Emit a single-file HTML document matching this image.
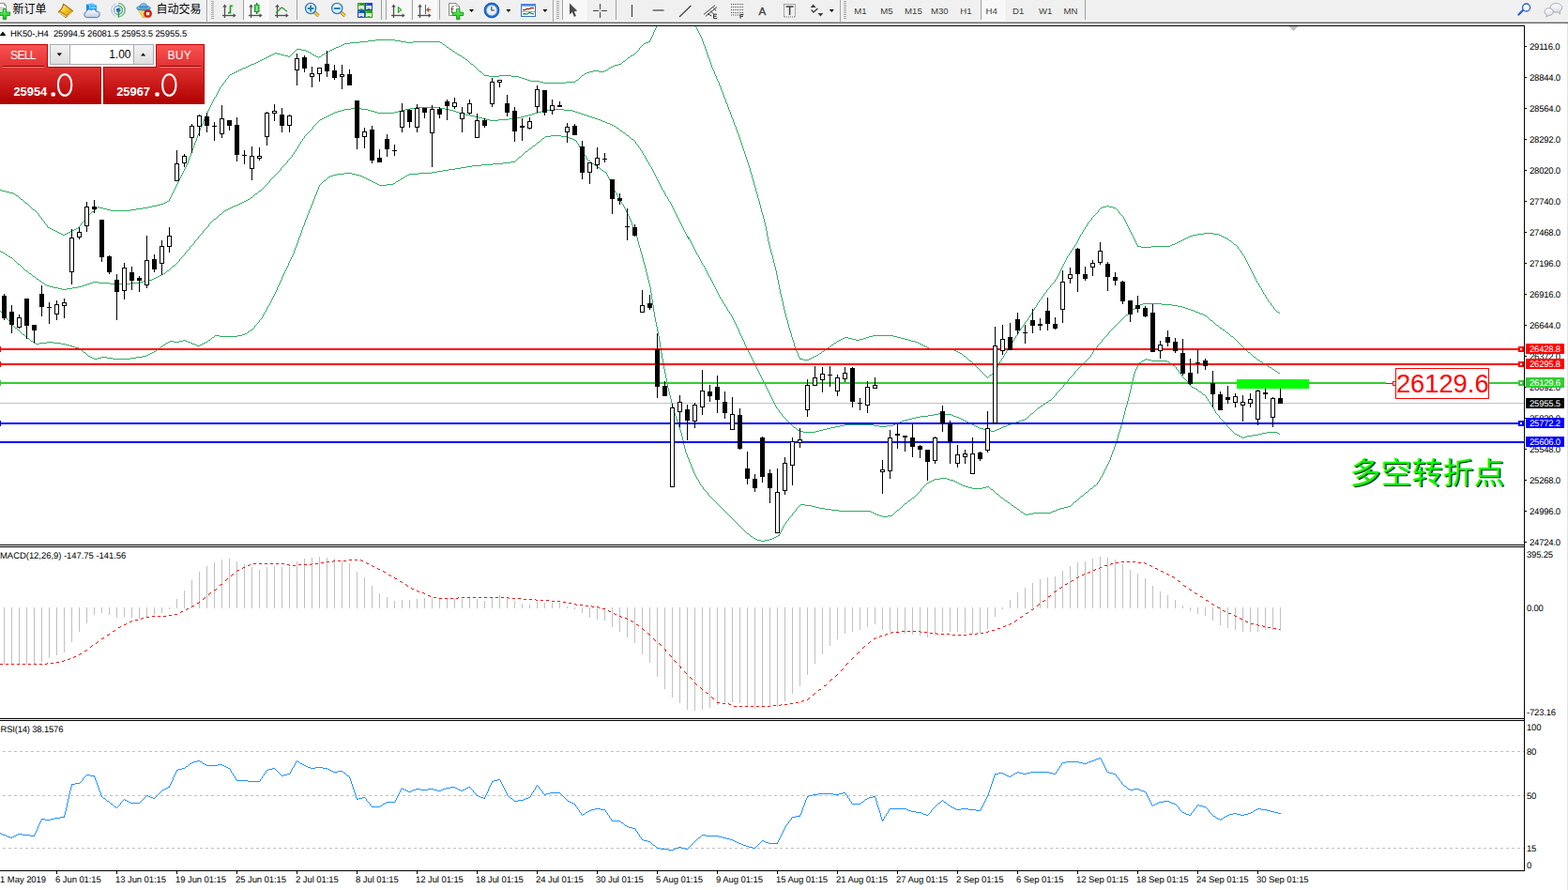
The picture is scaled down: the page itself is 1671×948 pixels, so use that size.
<!DOCTYPE html>
<html><head><meta charset="utf-8"><title>HK50-,H4</title>
<style>
html,body{margin:0;padding:0;background:#fff;}
body{width:1671px;height:948px;position:relative;overflow:hidden;font-family:"Liberation Sans",sans-serif;}
.t{position:absolute;white-space:nowrap;line-height:1.15;font-family:"Liberation Sans",sans-serif;}
.s{text-rendering:geometricPrecision;letter-spacing:-0.2px}
</style></head><body>
<svg id="tb" width="1671" height="27" viewBox="0 0 1671 27" style="position:absolute;left:0;top:0"><rect x="0" y="0" width="1671" height="23" fill="#f0f0f0" shape-rendering="crispEdges"/><rect x="0" y="22" width="1671" height="1" fill="#f5f5f5" shape-rendering="crispEdges"/><rect x="0" y="23" width="1671" height="1" fill="#b4b4b4" shape-rendering="crispEdges"/><rect x="0" y="24" width="1671" height="1" fill="#6b6b6b" shape-rendering="crispEdges"/><rect x="0" y="25" width="1671" height="2" fill="#ffffff" shape-rendering="crispEdges"/><defs>
<linearGradient id="gplus" x1="0" y1="0" x2="0" y2="1"><stop offset="0" stop-color="#7af07a"/><stop offset="1" stop-color="#1cc41c"/></linearGradient>
<linearGradient id="gold" x1="0" y1="0" x2="1" y2="1"><stop offset="0" stop-color="#fff07a"/><stop offset=".55" stop-color="#f0c020"/><stop offset="1" stop-color="#d09810"/></linearGradient>
<linearGradient id="bbox" x1="0" y1="0" x2="1" y2="0"><stop offset="0" stop-color="#1e78e8"/><stop offset="1" stop-color="#7cc4ff"/></linearGradient>
<linearGradient id="cloud" x1="0" y1="0" x2="0" y2="1"><stop offset="0" stop-color="#ffffff"/><stop offset="1" stop-color="#b8cdea"/></linearGradient>
<linearGradient id="hat" x1="0" y1="0" x2="0" y2="1"><stop offset="0" stop-color="#9ad4f2"/><stop offset="1" stop-color="#3d8fc8"/></linearGradient>
<linearGradient id="face" x1="0" y1="0" x2="1" y2="1"><stop offset="0" stop-color="#fff2a0"/><stop offset="1" stop-color="#e8b410"/></linearGradient>
<radialGradient id="lens" cx=".4" cy=".35" r=".8"><stop offset="0" stop-color="#f2fbff"/><stop offset="1" stop-color="#c4e6f6"/></radialGradient>
<radialGradient id="clock" cx=".5" cy=".5" r=".5"><stop offset="0" stop-color="#f4f6f8"/><stop offset=".66" stop-color="#dfe5ec"/><stop offset=".72" stop-color="#2e86ea"/><stop offset="1" stop-color="#0f56c0"/></radialGradient>
<linearGradient id="grn" x1="0" y1="0" x2="1" y2="0"><stop offset="0" stop-color="#20c040"/><stop offset=".5" stop-color="#90f0a0"/><stop offset="1" stop-color="#20c040"/></linearGradient>
<linearGradient id="bub" x1="0" y1="0" x2="0" y2="1"><stop offset="0" stop-color="#ffffff"/><stop offset="1" stop-color="#d4d8e4"/></linearGradient>
</defs><path d="M0,3.5 H4.5 L6.5,5.5 V13.5 H0" fill="#fff" stroke="#8a8a8a" stroke-width="1"/><path d="M4.5,3.5 V5.5 H6.5" fill="none" stroke="#8a8a8a" stroke-width=".8"/><rect x="0" y="8" width="5" height="1" fill="#b0b0b0"/><rect x="0" y="10" width="4" height="1" fill="#b0b0b0"/><path d="M3.3,9.6 H6.7 V13 H10.6 V16.4 H6.7 V20.4 H3.3 V16.4 H-1 V13 H3.3 z" fill="url(#gplus)" stroke="#0a960a" stroke-width=".9"/><text x="13.6" y="13.6" font-size="12" fill="#000" style="font-family:'Liberation Sans','Noto Sans CJK SC',sans-serif">新订单</text><path d="M67.6,4 L77.8,11.7 L70.1,18.7 L62,12.7 C65,10.6 66.6,8 67.6,4 z" fill="#c48c14" stroke="#9a6408" stroke-width=".9" stroke-linejoin="round"/><path d="M68.1,5.4 L76.3,11.6 L70.9,15.9 L64.6,11.4 C66.2,9.8 67.4,7.8 68.1,5.4 z" fill="url(#gold)"/><path d="M63.2,13.2 L70.2,17.8" stroke="#f6dc8c" stroke-width="1.1"/><path d="M71.2,17.2 L76.8,12.4" stroke="#e8d8a0" stroke-width=".8"/><path d="M92,4.6 L95.6,6 V13 H92 z" fill="#0a8cf2"/><path d="M95.6,6 L103,5.4 V13 H95.6 z" fill="#22a6ff"/><path d="M92,4.6 L98.6,3.4 L103,5.4 L95.6,6 z" fill="#5cb8ff"/><path d="M95.6,6 V12" stroke="#d8f0ff" stroke-width=".7"/><rect x="97.2" y="7.6" width="4.6" height="1" fill="#e6f4ff"/><path d="M92.6,18.6 a3,3 0 0 1 -.6,-5.9 a3.1,3.1 0 0 1 5.4,-1.7 a2.7,2.7 0 0 1 4.9,1.1 a2.9,2.9 0 0 1 1.3,6.5 z" fill="url(#cloud)" stroke="#4a6cae" stroke-width=".9"/><circle cx="126" cy="10.7" r="7.2" fill="none" stroke="#a8bfe6" stroke-width="1" stroke-dasharray="17 5.6" stroke-dashoffset="-14"/><path d="M126,3.499999999999999 A7.2,7.2 0 0 1 126,17.9" fill="none" stroke="#7fc09a" stroke-width="1.6"/><circle cx="126" cy="10.7" r="4.6" fill="none" stroke="#6f9ad8" stroke-width="1.1"/><path d="M126,6.1 A4.6,4.6 0 0 1 126,15.299999999999999" fill="#b5dcc0" stroke="#5aaa78" stroke-width="1"/><circle cx="126" cy="10.7" r="2.2" fill="#2a5fd0"/><path d="M126.3,10.7 V18.6" stroke="#18a030" stroke-width="1.3"/><path d="M146.5,10 L156,9.6 L160,10.5 L155,18.8 L152.5,18.8 z" fill="url(#face)" stroke="#c89a10" stroke-width=".6"/><ellipse cx="153" cy="8.6" rx="7.6" ry="2.6" fill="url(#hat)" stroke="#2f7eb4" stroke-width=".6"/><path d="M148.6,8 C148.8,2 157.2,2 157.4,8 z" fill="url(#hat)" stroke="#2f7eb4" stroke-width=".6"/><circle cx="157.6" cy="14.6" r="4" fill="#e02010" stroke="#b01808" stroke-width=".6"/><rect x="156" y="13" width="3.2" height="3.2" fill="#fff"/><text x="166.4" y="13.6" font-size="12" fill="#000" style="font-family:'Liberation Sans','Noto Sans CJK SC',sans-serif">自动交易</text><rect x="220" y="0" width="1" height="23" fill="#a0a0a0" shape-rendering="crispEdges"/><rect x="221" y="0" width="1" height="23" fill="#ffffff" shape-rendering="crispEdges"/><rect x="225" y="1" width="3" height="1" fill="#a6a6a6" shape-rendering="crispEdges"/><rect x="225" y="3" width="3" height="1" fill="#a6a6a6" shape-rendering="crispEdges"/><rect x="225" y="5" width="3" height="1" fill="#a6a6a6" shape-rendering="crispEdges"/><rect x="225" y="7" width="3" height="1" fill="#a6a6a6" shape-rendering="crispEdges"/><rect x="225" y="9" width="3" height="1" fill="#a6a6a6" shape-rendering="crispEdges"/><rect x="225" y="11" width="3" height="1" fill="#a6a6a6" shape-rendering="crispEdges"/><rect x="225" y="13" width="3" height="1" fill="#a6a6a6" shape-rendering="crispEdges"/><rect x="225" y="15" width="3" height="1" fill="#a6a6a6" shape-rendering="crispEdges"/><rect x="225" y="17" width="3" height="1" fill="#a6a6a6" shape-rendering="crispEdges"/><rect x="225" y="19" width="3" height="1" fill="#a6a6a6" shape-rendering="crispEdges"/><path d="M239.5,6 V19" stroke="#505050" stroke-width="1.3" fill="none"/><path d="M237,16.5 H250" stroke="#505050" stroke-width="1.3" fill="none"/><path d="M237.2,7.6 L239.5,4.6 L241.8,7.6 z" fill="#505050"/><path d="M248.6,14.2 L251.6,16.5 L248.6,18.8 z" fill="#505050"/><path d="M243,13.6 H245.5 V6.2 H248" fill="none" stroke="#18a018" stroke-width="1.6"/><rect x="260" y="0" width="25" height="21" fill="#f8f8f8" shape-rendering="crispEdges"/><rect x="259" y="0" width="1" height="21" fill="#a0a0a0" shape-rendering="crispEdges"/><rect x="285" y="0" width="1" height="22" fill="#ffffff" shape-rendering="crispEdges"/><rect x="259" y="21" width="27" height="1" fill="#ffffff" shape-rendering="crispEdges"/><path d="M267.5,6 V19" stroke="#505050" stroke-width="1.3" fill="none"/><path d="M265,16.5 H278" stroke="#505050" stroke-width="1.3" fill="none"/><path d="M265.2,7.6 L267.5,4.6 L269.8,7.6 z" fill="#505050"/><path d="M276.6,14.2 L279.6,16.5 L276.6,18.8 z" fill="#505050"/><rect x="273" y="3" width="1.4" height="12" fill="#0a900a"/><rect x="271.4" y="5.2" width="4.6" height="7.4" fill="url(#grn)" stroke="#0a900a" stroke-width=".9"/><path d="M295.5,6 V19" stroke="#505050" stroke-width="1.3" fill="none"/><path d="M293,16.5 H306" stroke="#505050" stroke-width="1.3" fill="none"/><path d="M293.2,7.6 L295.5,4.6 L297.8,7.6 z" fill="#505050"/><path d="M304.6,14.2 L307.6,16.5 L304.6,18.8 z" fill="#505050"/><path d="M294,13.6 C297,12.5 298.5,8 300.5,8.2 C302.5,8.6 303.5,11.5 306,12" fill="none" stroke="#2a9a3a" stroke-width="1.3"/><rect x="316" y="0" width="1" height="21" fill="#a0a0a0" shape-rendering="crispEdges"/><path d="M334.70000000000005,12.6 L339.5,17" stroke="#a87410" stroke-width="3.4" stroke-linecap="butt"/><path d="M334.70000000000005,12.6 L339.5,17" stroke="#f4dc48" stroke-width="1.8" stroke-linecap="butt"/><circle cx="331.1" cy="9" r="5.6" fill="url(#lens)" stroke="#2a78c8" stroke-width="1.3"/><path d="M327.70000000000005,9 H334.5" stroke="#2a80b4" stroke-width="2"/><path d="M331.1,5.6 V12.4" stroke="#2a80b4" stroke-width="2"/><path d="M362.8,12.6 L367.59999999999997,17" stroke="#a87410" stroke-width="3.4" stroke-linecap="butt"/><path d="M362.8,12.6 L367.59999999999997,17" stroke="#f4dc48" stroke-width="1.8" stroke-linecap="butt"/><circle cx="359.2" cy="9" r="5.6" fill="url(#lens)" stroke="#2a78c8" stroke-width="1.3"/><path d="M355.8,9 H362.59999999999997" stroke="#2a80b4" stroke-width="2"/><rect x="381" y="3" width="8" height="8" fill="#2ea010"/><rect x="382.2" y="6" width="5.7" height="3.9" fill="#ffffff"/><rect x="383" y="7.2" width="4" height="1" fill="#a8e090"/><rect x="382.2" y="4.2" width="0.9" height="0.9" fill="#e8f4ff"/><rect x="383.6" y="9.2" width="2.8" height="0.8" fill="#2ea010"/><rect x="389" y="3" width="8" height="8" fill="#1848d0"/><rect x="390.2" y="6" width="5.7" height="3.9" fill="#ffffff"/><rect x="391" y="7.2" width="4" height="1" fill="#a8b8f4"/><rect x="390.2" y="4.2" width="0.9" height="0.9" fill="#e8f4ff"/><rect x="391.6" y="9.2" width="2.8" height="0.8" fill="#1848d0"/><rect x="381" y="11" width="8" height="8" fill="#1848d0"/><rect x="382.2" y="14" width="5.7" height="3.9" fill="#ffffff"/><rect x="383" y="15.2" width="4" height="1" fill="#a8b8f4"/><rect x="382.2" y="12.2" width="0.9" height="0.9" fill="#e8f4ff"/><rect x="383.6" y="17.2" width="2.8" height="0.8" fill="#1848d0"/><rect x="389" y="11" width="8" height="8" fill="#2ea010"/><rect x="390.2" y="14" width="5.7" height="3.9" fill="#ffffff"/><rect x="391" y="15.2" width="4" height="1" fill="#a8e090"/><rect x="390.2" y="12.2" width="0.9" height="0.9" fill="#e8f4ff"/><rect x="391.6" y="17.2" width="2.8" height="0.8" fill="#2ea010"/><rect x="406" y="0" width="1" height="21" fill="#a0a0a0" shape-rendering="crispEdges"/><rect x="412" y="0" width="24" height="21" fill="#f8f8f8" shape-rendering="crispEdges"/><rect x="411" y="0" width="1" height="21" fill="#a0a0a0" shape-rendering="crispEdges"/><rect x="436" y="0" width="1" height="22" fill="#ffffff" shape-rendering="crispEdges"/><rect x="411" y="21" width="26" height="1" fill="#ffffff" shape-rendering="crispEdges"/><path d="M419.5,6 V19" stroke="#505050" stroke-width="1.3" fill="none"/><path d="M417,16.5 H430" stroke="#505050" stroke-width="1.3" fill="none"/><path d="M417.2,7.6 L419.5,4.6 L421.8,7.6 z" fill="#505050"/><path d="M428.6,14.2 L431.6,16.5 L428.6,18.8 z" fill="#505050"/><path d="M424.4,7.4 L428,10.5 L424.4,13.6 z" fill="#8af08a" stroke="#12a012" stroke-width="1"/><rect x="440" y="0" width="24" height="21" fill="#f8f8f8" shape-rendering="crispEdges"/><rect x="439" y="0" width="1" height="21" fill="#a0a0a0" shape-rendering="crispEdges"/><rect x="464" y="0" width="1" height="22" fill="#ffffff" shape-rendering="crispEdges"/><rect x="439" y="21" width="26" height="1" fill="#ffffff" shape-rendering="crispEdges"/><path d="M447.5,6 V19" stroke="#505050" stroke-width="1.3" fill="none"/><path d="M445,16.5 H458" stroke="#505050" stroke-width="1.3" fill="none"/><path d="M445.2,7.6 L447.5,4.6 L449.8,7.6 z" fill="#505050"/><path d="M456.6,14.2 L459.6,16.5 L456.6,18.8 z" fill="#505050"/><rect x="453" y="5" width="1" height="10" fill="#1a70a8" shape-rendering="crispEdges"/><path d="M459,10.5 H455" stroke="#b03808" stroke-width="1"/><path d="M454.2,10.5 L457,8 L456.4,10.5 L457,13 z" fill="#e85810" stroke="#b03808" stroke-width=".5"/><rect x="468" y="0" width="1" height="21" fill="#a0a0a0" shape-rendering="crispEdges"/><path d="M478.5,3.5 H486 L489.5,7 V16.5 H478.5 z" fill="#fff" stroke="#8a8a8a" stroke-width="1"/><path d="M486,3.5 V7 H489.5" fill="none" stroke="#8a8a8a" stroke-width=".8"/><path d="M481.6,14 V8.4 Q481.6,6.2 483.6,6.6 M480.4,9.6 H483.4" stroke="#5a5040" stroke-width="1" fill="none"/><path d="M486.6,9.4 H489.9 V13.2 H493.7 V16.5 H489.9 V20.6 H486.6 V16.5 H482.4 V13.2 H486.6 z" fill="url(#gplus)" stroke="#0a960a" stroke-width=".9"/><path d="M500,10 h5 l-2.5,3 z" fill="#000"/><circle cx="524" cy="11" r="8" fill="url(#clock)" stroke="#0c3f98" stroke-width=".6"/><path d="M523.8,7.2 V11 H526.8" stroke="#303848" stroke-width="1.1" fill="none"/><path d="M539.4,10 h5 l-2.5,3 z" fill="#000"/><rect x="555.5" y="4.5" width="15" height="13" fill="#f6faff" stroke="#3a6fc8" stroke-width="1"/><rect x="555" y="4" width="16" height="2.6" fill="#4a86e0"/><rect x="556" y="12" width="14" height="0.8" fill="#7aa0dc"/><path d="M557,10.6 L559.5,10.6 L561.5,9.4 L564,9.6 L566,8.4 L569,8.6" stroke="#a82808" stroke-width="1.2" fill="none"/><path d="M557,15 L559.5,14.6 L561.5,15.2 L564.5,13.2 L567,14.8 L569,14.6" stroke="#10882a" stroke-width="1.1" fill="none"/><path d="M578.4,10 h5 l-2.5,3 z" fill="#000"/><rect x="589" y="0" width="1" height="23" fill="#a0a0a0" shape-rendering="crispEdges"/><rect x="590" y="0" width="1" height="23" fill="#ffffff" shape-rendering="crispEdges"/><rect x="593" y="1" width="3" height="1" fill="#a6a6a6" shape-rendering="crispEdges"/><rect x="593" y="3" width="3" height="1" fill="#a6a6a6" shape-rendering="crispEdges"/><rect x="593" y="5" width="3" height="1" fill="#a6a6a6" shape-rendering="crispEdges"/><rect x="593" y="7" width="3" height="1" fill="#a6a6a6" shape-rendering="crispEdges"/><rect x="593" y="9" width="3" height="1" fill="#a6a6a6" shape-rendering="crispEdges"/><rect x="593" y="11" width="3" height="1" fill="#a6a6a6" shape-rendering="crispEdges"/><rect x="593" y="13" width="3" height="1" fill="#a6a6a6" shape-rendering="crispEdges"/><rect x="593" y="15" width="3" height="1" fill="#a6a6a6" shape-rendering="crispEdges"/><rect x="593" y="17" width="3" height="1" fill="#a6a6a6" shape-rendering="crispEdges"/><rect x="593" y="19" width="3" height="1" fill="#a6a6a6" shape-rendering="crispEdges"/><rect x="600" y="0" width="24" height="21" fill="#f8f8f8" shape-rendering="crispEdges"/><rect x="599" y="0" width="1" height="21" fill="#a0a0a0" shape-rendering="crispEdges"/><rect x="624" y="0" width="1" height="22" fill="#ffffff" shape-rendering="crispEdges"/><rect x="599" y="21" width="26" height="1" fill="#ffffff" shape-rendering="crispEdges"/><path d="M607,3.6 L607,15.2 L609.9,12.9 L611.9,17.9 L613.9,17.1 L611.9,12.2 L615.2,11.6 z" fill="#4a4a4a"/><rect x="639" y="4" width="1" height="6" fill="#404040" shape-rendering="crispEdges"/><rect x="639" y="13" width="1" height="6" fill="#404040" shape-rendering="crispEdges"/><rect x="632" y="11" width="6" height="1" fill="#404040" shape-rendering="crispEdges"/><rect x="641" y="11" width="6" height="1" fill="#404040" shape-rendering="crispEdges"/><rect x="639" y="11" width="1" height="1" fill="#8a7a50" shape-rendering="crispEdges"/><rect x="656" y="0" width="1" height="21" fill="#a0a0a0" shape-rendering="crispEdges"/><path d="M673.5,5 V18" stroke="#404040" stroke-width="1.2"/><path d="M695.6,11 H707.6" stroke="#404040" stroke-width="1.2"/><path d="M724,18 L736.4,6" stroke="#404040" stroke-width="1.2"/><path d="M750,15.4 L762,5.6 M752,17.4 L764,7.6 M754,14.6 L758.4,17 M757,11.4 L760.4,15 M760.4,8 L762.8,11.6" stroke="#404040" stroke-width="1" fill="none"/><g transform="translate(760.6,19.6)"><path d="M0,0 V-4.4 H3.4 M0,-2.3 H3 M0,0 H3.6" stroke="#303030" stroke-width="1" fill="none"/></g><path d="M779,4.5 H792" stroke="#505050" stroke-width="1" stroke-dasharray="1 1"/><path d="M779,7.5 H792" stroke="#505050" stroke-width="1" stroke-dasharray="1 1"/><path d="M779,10.5 H792" stroke="#505050" stroke-width="1" stroke-dasharray="1 1"/><path d="M779,13.5 H792" stroke="#505050" stroke-width="1" stroke-dasharray="1 1"/><path d="M779,16 H792" stroke="#505050" stroke-width="1" stroke-dasharray="1 1"/><g transform="translate(789,19.8)"><path d="M0,0 V-4.4 H3.4 M0,-2.2 H2.8" stroke="#303030" stroke-width="1" fill="none"/></g><text x="808.6" y="15.6" font-family="Liberation Sans" font-size="11.6" fill="#404040" stroke="#404040" stroke-width=".3">A</text><rect x="835.5" y="4.5" width="12" height="13.5" fill="none" stroke="#606060" stroke-width="1" stroke-dasharray="1 1"/><path d="M837.6,7 H845.6 M841.6,7 V16" stroke="#404040" stroke-width="1.5" fill="none"/><path d="M866.6,4.4 L869.6,8 H863.6 z M874.4,17.6 L871.4,14 H877.4 z" fill="#404040"/><path d="M864.6,10.6 L867,13 L871.4,9" stroke="#404040" stroke-width="1.4" fill="none"/><path d="M883.8,10 h5 l-2.5,3 z" fill="#000"/><rect x="895" y="0" width="1" height="23" fill="#a0a0a0" shape-rendering="crispEdges"/><rect x="896" y="0" width="1" height="23" fill="#ffffff" shape-rendering="crispEdges"/><rect x="899" y="1" width="3" height="1" fill="#a6a6a6" shape-rendering="crispEdges"/><rect x="899" y="3" width="3" height="1" fill="#a6a6a6" shape-rendering="crispEdges"/><rect x="899" y="5" width="3" height="1" fill="#a6a6a6" shape-rendering="crispEdges"/><rect x="899" y="7" width="3" height="1" fill="#a6a6a6" shape-rendering="crispEdges"/><rect x="899" y="9" width="3" height="1" fill="#a6a6a6" shape-rendering="crispEdges"/><rect x="899" y="11" width="3" height="1" fill="#a6a6a6" shape-rendering="crispEdges"/><rect x="899" y="13" width="3" height="1" fill="#a6a6a6" shape-rendering="crispEdges"/><rect x="899" y="15" width="3" height="1" fill="#a6a6a6" shape-rendering="crispEdges"/><rect x="899" y="17" width="3" height="1" fill="#a6a6a6" shape-rendering="crispEdges"/><rect x="899" y="19" width="3" height="1" fill="#a6a6a6" shape-rendering="crispEdges"/><rect x="1046" y="0" width="24" height="21" fill="#f8f8f8" shape-rendering="crispEdges"/><rect x="1045" y="0" width="1" height="21" fill="#a0a0a0" shape-rendering="crispEdges"/><rect x="1070" y="0" width="1" height="22" fill="#ffffff" shape-rendering="crispEdges"/><rect x="1045" y="21" width="26" height="1" fill="#ffffff" shape-rendering="crispEdges"/><text x="917" y="14.7" text-anchor="middle" font-family="Liberation Sans" font-size="9.6" fill="#3c3c3c">M1</text><text x="945" y="14.7" text-anchor="middle" font-family="Liberation Sans" font-size="9.6" fill="#3c3c3c">M5</text><text x="973.4" y="14.7" text-anchor="middle" font-family="Liberation Sans" font-size="9.6" fill="#3c3c3c">M15</text><text x="1001.3" y="14.7" text-anchor="middle" font-family="Liberation Sans" font-size="9.6" fill="#3c3c3c">M30</text><text x="1029.4" y="14.7" text-anchor="middle" font-family="Liberation Sans" font-size="9.6" fill="#3c3c3c">H1</text><text x="1056.6" y="14.7" text-anchor="middle" font-family="Liberation Sans" font-size="9.6" fill="#3c3c3c">H4</text><text x="1085.2" y="14.7" text-anchor="middle" font-family="Liberation Sans" font-size="9.6" fill="#3c3c3c">D1</text><text x="1114.2" y="14.7" text-anchor="middle" font-family="Liberation Sans" font-size="9.6" fill="#3c3c3c">W1</text><text x="1141" y="14.7" text-anchor="middle" font-family="Liberation Sans" font-size="9.6" fill="#3c3c3c">MN</text><rect x="1156" y="0" width="1" height="21" fill="#a0a0a0" shape-rendering="crispEdges"/><path d="M1623.4,10.4 L1618.4,15.6" stroke="#2a5fc8" stroke-width="2.2" stroke-linecap="round"/><circle cx="1626.6" cy="8" r="4" fill="#f6f9ff" stroke="#2a5fc8" stroke-width="1.3"/><path d="M1653,5.6 a6.4,4.8 0 1 1 9,6.6 l.6,2.6 l-2.6,-1.8 a6.4,4.8 0 0 1 -7,-7.4 z" fill="url(#bub)" stroke="#9a9aa2" stroke-width=".8"/><path d="M1646,12 a4.6,3.8 0 1 1 4.4,4.4 l-2.6,1.8 l.4,-2.4 a4.6,3.8 0 0 1 -2.2,-3.8 z" fill="url(#bub)" stroke="#9a9aa2" stroke-width=".8"/></svg>
<svg id="chart" width="1671" height="948" viewBox="0 0 1671 948" style="position:absolute;left:0;top:0"><g shape-rendering="crispEdges"><rect x="0" y="27" width="1625" height="1" fill="#000"/><rect x="1624" y="27" width="1" height="901" fill="#000"/><rect x="0" y="580" width="1625" height="1" fill="#000"/><rect x="0" y="582" width="1625" height="1" fill="#000"/><rect x="0" y="765" width="1625" height="1" fill="#000"/><rect x="0" y="767" width="1625" height="1" fill="#000"/><rect x="0" y="927" width="1625" height="1" fill="#000"/><rect x="1670" y="25" width="1" height="923" fill="#e3e3e3"/><path d="M1373,28 H1383 L1378,33 z" fill="#c0c0c0"/><rect x="0" y="429" width="1624" height="1" fill="#c0c0c0"/><rect x="4" y="647" width="1" height="61" fill="#c0c0c0"/><rect x="12" y="647" width="1" height="61" fill="#c0c0c0"/><rect x="20" y="647" width="1" height="61" fill="#c0c0c0"/><rect x="28" y="647" width="1" height="61" fill="#c0c0c0"/><rect x="36" y="647" width="1" height="61" fill="#c0c0c0"/><rect x="44" y="647" width="1" height="58" fill="#c0c0c0"/><rect x="52" y="647" width="1" height="54" fill="#c0c0c0"/><rect x="60" y="647" width="1" height="51" fill="#c0c0c0"/><rect x="68" y="647" width="1" height="48" fill="#c0c0c0"/><rect x="76" y="647" width="1" height="37" fill="#c0c0c0"/><rect x="84" y="647" width="1" height="26" fill="#c0c0c0"/><rect x="92" y="647" width="1" height="17" fill="#c0c0c0"/><rect x="100" y="647" width="1" height="8" fill="#c0c0c0"/><rect x="108" y="647" width="1" height="6" fill="#c0c0c0"/><rect x="116" y="647" width="1" height="8" fill="#c0c0c0"/><rect x="124" y="647" width="1" height="11" fill="#c0c0c0"/><rect x="132" y="647" width="1" height="10" fill="#c0c0c0"/><rect x="140" y="647" width="1" height="11" fill="#c0c0c0"/><rect x="148" y="647" width="1" height="12" fill="#c0c0c0"/><rect x="156" y="647" width="1" height="10" fill="#c0c0c0"/><rect x="164" y="647" width="1" height="8" fill="#c0c0c0"/><rect x="172" y="647" width="1" height="6" fill="#c0c0c0"/><rect x="180" y="647" width="1" height="2" fill="#c0c0c0"/><rect x="188" y="638" width="1" height="10" fill="#c0c0c0"/><rect x="196" y="629" width="1" height="19" fill="#c0c0c0"/><rect x="204" y="618" width="1" height="30" fill="#c0c0c0"/><rect x="212" y="609" width="1" height="39" fill="#c0c0c0"/><rect x="220" y="603" width="1" height="45" fill="#c0c0c0"/><rect x="228" y="599" width="1" height="49" fill="#c0c0c0"/><rect x="236" y="596" width="1" height="52" fill="#c0c0c0"/><rect x="244" y="595" width="1" height="53" fill="#c0c0c0"/><rect x="252" y="598" width="1" height="50" fill="#c0c0c0"/><rect x="260" y="601" width="1" height="47" fill="#c0c0c0"/><rect x="268" y="604" width="1" height="44" fill="#c0c0c0"/><rect x="276" y="607" width="1" height="41" fill="#c0c0c0"/><rect x="284" y="604" width="1" height="44" fill="#c0c0c0"/><rect x="292" y="603" width="1" height="45" fill="#c0c0c0"/><rect x="300" y="604" width="1" height="44" fill="#c0c0c0"/><rect x="308" y="604" width="1" height="44" fill="#c0c0c0"/><rect x="316" y="598" width="1" height="50" fill="#c0c0c0"/><rect x="324" y="595" width="1" height="53" fill="#c0c0c0"/><rect x="332" y="594" width="1" height="54" fill="#c0c0c0"/><rect x="340" y="593" width="1" height="55" fill="#c0c0c0"/><rect x="348" y="594" width="1" height="54" fill="#c0c0c0"/><rect x="356" y="595" width="1" height="53" fill="#c0c0c0"/><rect x="364" y="597" width="1" height="51" fill="#c0c0c0"/><rect x="372" y="600" width="1" height="48" fill="#c0c0c0"/><rect x="380" y="609" width="1" height="39" fill="#c0c0c0"/><rect x="388" y="615" width="1" height="33" fill="#c0c0c0"/><rect x="396" y="624" width="1" height="24" fill="#c0c0c0"/><rect x="404" y="632" width="1" height="16" fill="#c0c0c0"/><rect x="412" y="636" width="1" height="12" fill="#c0c0c0"/><rect x="420" y="640" width="1" height="8" fill="#c0c0c0"/><rect x="428" y="639" width="1" height="9" fill="#c0c0c0"/><rect x="436" y="639" width="1" height="9" fill="#c0c0c0"/><rect x="444" y="638" width="1" height="10" fill="#c0c0c0"/><rect x="452" y="637" width="1" height="11" fill="#c0c0c0"/><rect x="460" y="637" width="1" height="11" fill="#c0c0c0"/><rect x="468" y="637" width="1" height="11" fill="#c0c0c0"/><rect x="476" y="638" width="1" height="10" fill="#c0c0c0"/><rect x="484" y="637" width="1" height="11" fill="#c0c0c0"/><rect x="492" y="638" width="1" height="10" fill="#c0c0c0"/><rect x="500" y="637" width="1" height="11" fill="#c0c0c0"/><rect x="508" y="638" width="1" height="10" fill="#c0c0c0"/><rect x="516" y="640" width="1" height="8" fill="#c0c0c0"/><rect x="524" y="636" width="1" height="12" fill="#c0c0c0"/><rect x="532" y="634" width="1" height="14" fill="#c0c0c0"/><rect x="540" y="637" width="1" height="11" fill="#c0c0c0"/><rect x="548" y="640" width="1" height="8" fill="#c0c0c0"/><rect x="556" y="643" width="1" height="5" fill="#c0c0c0"/><rect x="564" y="644" width="1" height="4" fill="#c0c0c0"/><rect x="572" y="641" width="1" height="7" fill="#c0c0c0"/><rect x="580" y="642" width="1" height="6" fill="#c0c0c0"/><rect x="588" y="642" width="1" height="6" fill="#c0c0c0"/><rect x="596" y="642" width="1" height="6" fill="#c0c0c0"/><rect x="604" y="646" width="1" height="2" fill="#c0c0c0"/><rect x="612" y="647" width="1" height="2" fill="#c0c0c0"/><rect x="620" y="647" width="1" height="6" fill="#c0c0c0"/><rect x="628" y="647" width="1" height="11" fill="#c0c0c0"/><rect x="636" y="647" width="1" height="13" fill="#c0c0c0"/><rect x="644" y="647" width="1" height="14" fill="#c0c0c0"/><rect x="652" y="647" width="1" height="21" fill="#c0c0c0"/><rect x="660" y="647" width="1" height="26" fill="#c0c0c0"/><rect x="668" y="647" width="1" height="32" fill="#c0c0c0"/><rect x="676" y="647" width="1" height="38" fill="#c0c0c0"/><rect x="684" y="647" width="1" height="50" fill="#c0c0c0"/><rect x="692" y="647" width="1" height="59" fill="#c0c0c0"/><rect x="700" y="647" width="1" height="74" fill="#c0c0c0"/><rect x="708" y="647" width="1" height="87" fill="#c0c0c0"/><rect x="716" y="647" width="1" height="96" fill="#c0c0c0"/><rect x="724" y="647" width="1" height="102" fill="#c0c0c0"/><rect x="732" y="647" width="1" height="109" fill="#c0c0c0"/><rect x="740" y="647" width="1" height="110" fill="#c0c0c0"/><rect x="748" y="647" width="1" height="109" fill="#c0c0c0"/><rect x="756" y="647" width="1" height="107" fill="#c0c0c0"/><rect x="764" y="647" width="1" height="104" fill="#c0c0c0"/><rect x="772" y="647" width="1" height="102" fill="#c0c0c0"/><rect x="780" y="647" width="1" height="101" fill="#c0c0c0"/><rect x="788" y="647" width="1" height="102" fill="#c0c0c0"/><rect x="796" y="647" width="1" height="105" fill="#c0c0c0"/><rect x="804" y="647" width="1" height="108" fill="#c0c0c0"/><rect x="812" y="647" width="1" height="107" fill="#c0c0c0"/><rect x="820" y="647" width="1" height="106" fill="#c0c0c0"/><rect x="828" y="647" width="1" height="106" fill="#c0c0c0"/><rect x="836" y="647" width="1" height="100" fill="#c0c0c0"/><rect x="844" y="647" width="1" height="92" fill="#c0c0c0"/><rect x="852" y="647" width="1" height="84" fill="#c0c0c0"/><rect x="860" y="647" width="1" height="72" fill="#c0c0c0"/><rect x="868" y="647" width="1" height="60" fill="#c0c0c0"/><rect x="876" y="647" width="1" height="50" fill="#c0c0c0"/><rect x="884" y="647" width="1" height="41" fill="#c0c0c0"/><rect x="892" y="647" width="1" height="34" fill="#c0c0c0"/><rect x="900" y="647" width="1" height="28" fill="#c0c0c0"/><rect x="908" y="647" width="1" height="26" fill="#c0c0c0"/><rect x="916" y="647" width="1" height="24" fill="#c0c0c0"/><rect x="924" y="647" width="1" height="21" fill="#c0c0c0"/><rect x="932" y="647" width="1" height="18" fill="#c0c0c0"/><rect x="940" y="647" width="1" height="24" fill="#c0c0c0"/><rect x="948" y="647" width="1" height="26" fill="#c0c0c0"/><rect x="956" y="647" width="1" height="28" fill="#c0c0c0"/><rect x="964" y="647" width="1" height="28" fill="#c0c0c0"/><rect x="972" y="647" width="1" height="29" fill="#c0c0c0"/><rect x="980" y="647" width="1" height="30" fill="#c0c0c0"/><rect x="988" y="647" width="1" height="32" fill="#c0c0c0"/><rect x="996" y="647" width="1" height="30" fill="#c0c0c0"/><rect x="1004" y="647" width="1" height="26" fill="#c0c0c0"/><rect x="1012" y="647" width="1" height="26" fill="#c0c0c0"/><rect x="1020" y="647" width="1" height="26" fill="#c0c0c0"/><rect x="1028" y="647" width="1" height="27" fill="#c0c0c0"/><rect x="1036" y="647" width="1" height="28" fill="#c0c0c0"/><rect x="1044" y="647" width="1" height="27" fill="#c0c0c0"/><rect x="1052" y="647" width="1" height="23" fill="#c0c0c0"/><rect x="1060" y="647" width="1" height="10" fill="#c0c0c0"/><rect x="1068" y="647" width="1" height="2" fill="#c0c0c0"/><rect x="1076" y="639" width="1" height="9" fill="#c0c0c0"/><rect x="1084" y="631" width="1" height="17" fill="#c0c0c0"/><rect x="1092" y="626" width="1" height="22" fill="#c0c0c0"/><rect x="1100" y="621" width="1" height="27" fill="#c0c0c0"/><rect x="1108" y="617" width="1" height="31" fill="#c0c0c0"/><rect x="1116" y="615" width="1" height="33" fill="#c0c0c0"/><rect x="1124" y="614" width="1" height="34" fill="#c0c0c0"/><rect x="1132" y="608" width="1" height="40" fill="#c0c0c0"/><rect x="1140" y="603" width="1" height="45" fill="#c0c0c0"/><rect x="1148" y="599" width="1" height="49" fill="#c0c0c0"/><rect x="1156" y="598" width="1" height="50" fill="#c0c0c0"/><rect x="1164" y="595" width="1" height="53" fill="#c0c0c0"/><rect x="1172" y="593" width="1" height="55" fill="#c0c0c0"/><rect x="1180" y="594" width="1" height="54" fill="#c0c0c0"/><rect x="1188" y="596" width="1" height="52" fill="#c0c0c0"/><rect x="1196" y="601" width="1" height="47" fill="#c0c0c0"/><rect x="1204" y="607" width="1" height="41" fill="#c0c0c0"/><rect x="1212" y="611" width="1" height="37" fill="#c0c0c0"/><rect x="1220" y="616" width="1" height="32" fill="#c0c0c0"/><rect x="1228" y="624" width="1" height="24" fill="#c0c0c0"/><rect x="1236" y="630" width="1" height="18" fill="#c0c0c0"/><rect x="1244" y="634" width="1" height="14" fill="#c0c0c0"/><rect x="1252" y="639" width="1" height="9" fill="#c0c0c0"/><rect x="1260" y="645" width="1" height="3" fill="#c0c0c0"/><rect x="1268" y="647" width="1" height="4" fill="#c0c0c0"/><rect x="1276" y="647" width="1" height="7" fill="#c0c0c0"/><rect x="1284" y="647" width="1" height="9" fill="#c0c0c0"/><rect x="1292" y="647" width="1" height="14" fill="#c0c0c0"/><rect x="1300" y="647" width="1" height="19" fill="#c0c0c0"/><rect x="1308" y="647" width="1" height="22" fill="#c0c0c0"/><rect x="1316" y="647" width="1" height="24" fill="#c0c0c0"/><rect x="1324" y="647" width="1" height="26" fill="#c0c0c0"/><rect x="1332" y="647" width="1" height="26" fill="#c0c0c0"/><rect x="1340" y="647" width="1" height="26" fill="#c0c0c0"/><rect x="1348" y="647" width="1" height="24" fill="#c0c0c0"/><rect x="1356" y="647" width="1" height="24" fill="#c0c0c0"/><rect x="1364" y="647" width="1" height="25" fill="#c0c0c0"/><line x1="3" y1="800.5" x2="1624" y2="800.5" stroke="#c0c0c0" stroke-width="1" stroke-dasharray="3,3"/><line x1="3" y1="847.5" x2="1624" y2="847.5" stroke="#c0c0c0" stroke-width="1" stroke-dasharray="3,3"/><line x1="3" y1="903.5" x2="1624" y2="903.5" stroke="#c0c0c0" stroke-width="1" stroke-dasharray="3,3"/></g><clipPath id="cm"><rect x="0" y="28" width="1624" height="552"/></clipPath><g shape-rendering="crispEdges" clip-path="url(#cm)"><path d="M879,542.5h7M1084,542.5h2M1127,542.5h3M565,86.5h10M400,195.5h2M419,195.5h2M1212,262.5h4M1227,262.5h20M1,268.5h2M894,544.5h34M1122,544.5h3M1254,258.5h2M29,360.5h2M898,360.5h2M904,360.5h4M920,360.5h3M960,360.5h4M84,371.5h2M990,371.5h14M1247,261.5h2M886,543.5h8M956,543.5h2M1125,543.5h2M110,222.5h4M145,222.5h7M243,222.5h2M167,372.5h2M879,372.5h2M1004,372.5h13M1282,420.5h2M156,378.5h2M870,378.5h2M1218,323.5h20M118,224.5h21M239,224.5h2M1252,259.5h2M1247,387.5h2M1346,387.5h2M1106,434.5h2M289,58.5h2M299,58.5h4M333,58.5h2M343,58.5h2M488,58.5h2M674,58.5h2M1000,440.5h7M1099,440.5h2M562,85.5h3M614,85.5h2M1115,428.5h2M890,454.5h5M937,454.5h8M1040,454.5h2M1069,454.5h3M98,225.5h2M1213,325.5h2M1249,325.5h6M877,457.5h4M1048,457.5h4M1062,457.5h3M383,44.5h9M427,44.5h6M440,44.5h29M691,44.5h2M994,511.5h2M1012,511.5h4M45,301.5h2M96,301.5h3M105,301.5h12M139,301.5h9M1033,384.5h2M1217,384.5h2M1227,384.5h17M900,452.5h31M952,452.5h2M1036,452.5h2M1074,452.5h3M610,148.5h2M673,148.5h2M162,219.5h5M249,219.5h3M1179,219.5h3M796,568.5h2M1214,386.5h2M367,116.5h7M385,116.5h7M432,116.5h5M474,116.5h5M590,116.5h11M351,122.5h2M496,122.5h5M563,122.5h4M622,122.5h3M63,248.5h2M71,248.5h2M1283,248.5h10M503,176.5h10M634,176.5h2M16,349.5h2M1300,349.5h2M560,161.5h2M316,52.5h5M354,52.5h2M479,52.5h2M39,297.5h2M162,297.5h2M67,250.5h2M1271,250.5h5M1299,250.5h2M158,298.5h4M36,365.5h2M42,365.5h8M57,365.5h8M177,365.5h2M203,365.5h2M217,365.5h2M889,365.5h2M978,365.5h2M627,171.5h2M373,45.5h10M433,45.5h7M469,45.5h2M688,45.5h3M11,274.5h2M856,460.5h13M1350,460.5h11M267,351.5h2M1303,351.5h2M805,574.5h2M820,574.5h3M38,366.5h4M65,366.5h5M205,366.5h3M215,366.5h2M980,366.5h2M341,127.5h2M518,127.5h4M531,127.5h11M637,127.5h3M367,184.5h8M446,184.5h14M374,115.5h11M437,115.5h6M469,115.5h5M472,181.5h6M641,181.5h2M1353,391.5h2M443,114.5h26M62,307.5h4M71,307.5h6M1029,518.5h3M1051,518.5h3M1274,414.5h2M516,80.5h5M532,80.5h13M620,80.5h2M972,530.5h2M1067,530.5h2M61,247.5h2M73,247.5h2M104,220.5h2M158,220.5h4M247,220.5h2M1175,220.5h4M1182,220.5h4M850,458.5h2M873,458.5h4M1052,458.5h4M1060,458.5h2M390,190.5h2M427,190.5h2M229,357.5h5M253,357.5h5M930,357.5h22M1278,417.5h2M466,182.5h6M733,253.5h2M1264,253.5h2M1305,253.5h2M349,123.5h2M501,123.5h5M559,123.5h4M625,123.5h3M262,71.5h2M651,71.5h2M93,302.5h3M117,302.5h22M55,244.5h2M79,244.5h2M100,382.5h4M120,382.5h19M852,382.5h4M862,382.5h2M1221,382.5h2M587,144.5h11M668,144.5h2M1345,461.5h5M1361,461.5h2M50,304.5h3M87,304.5h3M51,242.5h2M48,303.5h2M90,303.5h3M57,245.5h2M77,245.5h2M521,81.5h11M545,81.5h8M1258,256.5h2M1310,256.5h2M930,546.5h2M1101,546.5h19M581,145.5h6M598,145.5h7M234,358.5h19M926,358.5h4M952,358.5h4M1312,358.5h2M345,192.5h2M394,192.5h2M424,192.5h2M928,545.5h2M1088,545.5h2M1120,545.5h2M392,191.5h2M195,362.5h3M222,362.5h2M894,362.5h2M912,362.5h4M968,362.5h3M74,368.5h3M210,368.5h3M984,368.5h2M226,359.5h2M900,359.5h4M923,359.5h3M956,359.5h4M33,363.5h2M181,363.5h4M191,363.5h4M198,363.5h2M892,363.5h2M971,363.5h4M17,208.5h2M858,538.5h7M1078,538.5h2M1112,430.5h2M1152,528.5h2M896,361.5h2M908,361.5h4M916,361.5h4M964,361.5h4M158,377.5h2M106,221.5h4M152,221.5h6M245,221.5h2M1173,221.5h2M1186,221.5h3M178,214.5h2M260,214.5h2M553,82.5h3M1272,331.5h2M245,79.5h2M578,147.5h2M607,147.5h3M937,549.5h3M946,549.5h5M1200,335.5h2M1282,335.5h2M363,48.5h2M579,88.5h24M1216,263.5h11M961,448.5h3M1028,448.5h2M1086,448.5h3M77,369.5h3M171,369.5h2M986,369.5h2M829,570.5h2M1256,257.5h2M35,294.5h2M168,294.5h2M1215,324.5h3M1238,324.5h11M536,173.5h8M392,43.5h8M421,43.5h6M27,216.5h2M174,216.5h2M256,216.5h2M9,273.5h2M261,355.5h2M1207,329.5h2M1266,329.5h3M996,510.5h6M1009,510.5h3M357,119.5h3M399,119.5h3M420,119.5h4M486,119.5h3M573,119.5h4M613,119.5h3M364,117.5h3M392,117.5h3M428,117.5h4M479,117.5h4M582,117.5h8M601,117.5h9M57,306.5h5M77,306.5h6M968,533.5h2M1071,533.5h2M400,42.5h21M19,281.5h2M343,126.5h2M514,126.5h4M542,126.5h8M634,126.5h3M355,120.5h2M402,120.5h18M489,120.5h3M570,120.5h3M616,120.5h3M166,295.5h2M353,121.5h2M492,121.5h4M567,121.5h3M619,121.5h3M359,185.5h8M375,185.5h4M436,185.5h10M164,296.5h2M404,197.5h8M321,53.5h5M352,53.5h2M1026,517.5h3M1166,517.5h2M1348,388.5h2M478,180.5h7M350,188.5h2M386,188.5h2M251,76.5h2M511,76.5h2M628,76.5h4M638,76.5h6M275,65.5h2M664,65.5h2M6,204.5h4M98,381.5h2M104,381.5h4M114,381.5h6M139,381.5h6M864,381.5h2M1056,521.5h2M271,67.5h2M664,141.5h2M652,133.5h2M352,187.5h3M383,187.5h3M432,187.5h2M402,196.5h2M412,196.5h7M865,539.5h4M1138,539.5h3M170,293.5h2M70,367.5h4M174,367.5h2M208,367.5h2M213,367.5h2M886,367.5h2M982,367.5h2M869,540.5h4M1081,540.5h2M1134,540.5h4M89,375.5h2M162,375.5h2M1021,375.5h2M1330,375.5h2M1320,464.5h2M1329,464.5h6M733,254.5h2M1262,254.5h2M1307,254.5h2M556,83.5h3M99,300.5h6M148,300.5h5M66,308.5h5M65,249.5h2M69,249.5h2M1276,249.5h7M1293,249.5h6M1249,260.5h3M1315,260.5h2M171,217.5h3M254,217.5h2M976,444.5h5M1019,444.5h3M856,383.5h6M1219,383.5h2M1223,383.5h4M1340,383.5h2M367,46.5h6M686,46.5h2M995,441.5h5M1007,441.5h7M1260,327.5h3M1250,389.5h2M1263,328.5h3M811,576.5h4M968,446.5h4M1024,446.5h2M1092,446.5h2M513,175.5h12M803,573.5h2M823,573.5h2M328,55.5h2M348,55.5h2M53,305.5h4M83,305.5h4M264,70.5h2M653,70.5h2M1284,336.5h2M228,233.5h2M176,215.5h2M258,215.5h2M956,450.5h3M1032,450.5h2M1080,450.5h3M283,61.5h2M493,61.5h2M669,61.5h2M959,449.5h2M1030,449.5h2M1083,449.5h3M972,445.5h4M1022,445.5h2M460,183.5h6M644,183.5h2M264,353.5h2M1351,390.5h2M895,453.5h5M931,453.5h6M945,453.5h7M1038,453.5h2M1072,453.5h2M1316,462.5h2M1341,462.5h4M345,125.5h2M510,125.5h4M550,125.5h5M631,125.5h3M1274,332.5h3M1361,332.5h2M645,130.5h2M647,131.5h3M247,78.5h2M623,78.5h2M360,118.5h4M395,118.5h4M424,118.5h4M483,118.5h3M577,118.5h5M610,118.5h3M59,246.5h2M75,246.5h2M1296,346.5h2M1118,426.5h2M80,370.5h4M882,370.5h2M988,370.5h2M605,146.5h2M172,292.5h2M396,193.5h2M422,193.5h2M388,189.5h2M429,189.5h2M398,194.5h2M14,206.5h2M272,206.5h2M160,376.5h2M873,376.5h2M1023,376.5h2M164,374.5h2M876,374.5h2M1019,374.5h2M255,74.5h2M646,74.5h2M1145,534.5h2M932,547.5h2M1091,547.5h2M1096,547.5h5M1017,373.5h2M934,548.5h3M1093,548.5h3M1277,333.5h2M1244,385.5h2M1343,385.5h2M0,202.5h2M96,380.5h2M108,380.5h6M145,380.5h7M866,380.5h2M1336,380.5h2M22,212.5h2M264,212.5h2M981,443.5h8M1016,443.5h3M31,291.5h2M174,291.5h2M544,172.5h5M553,167.5h2M800,571.5h2M827,571.5h2M485,179.5h6M291,57.5h2M295,57.5h4M345,57.5h2M287,59.5h2M303,59.5h4M335,59.5h2M490,59.5h2M672,59.5h2M35,223.5h2M114,223.5h4M139,223.5h6M241,223.5h2M1002,509.5h7M573,151.5h2M42,299.5h2M153,299.5h5M24,356.5h2M258,356.5h3M355,186.5h4M379,186.5h4M434,186.5h2M273,66.5h2M1356,393.5h2M1022,515.5h2M807,575.5h4M815,575.5h5M846,455.5h2M885,455.5h5M1042,455.5h2M1067,455.5h2M347,124.5h2M506,124.5h4M555,124.5h4M628,124.5h3M27,288.5h2M178,288.5h2M1036,520.5h11M1162,520.5h2M852,459.5h4M869,459.5h4M1056,459.5h4M525,174.5h11M631,174.5h2M293,56.5h2M330,56.5h2M485,56.5h2M266,69.5h2M655,69.5h4M732,252.5h2M1266,252.5h2M1303,252.5h2M1307,354.5h2M522,128.5h9M640,128.5h2M253,75.5h2M632,75.5h6M644,75.5h2M234,228.5h2M654,134.5h2M1074,535.5h2M1272,413.5h2M1322,465.5h2M1326,465.5h3M1260,255.5h2M167,218.5h4M252,218.5h2M184,283.5h2M964,447.5h4M1026,447.5h2M1089,447.5h3M1211,326.5h2M1255,326.5h5M940,550.5h6M568,155.5h2M1032,519.5h4M1047,519.5h4M281,62.5h2M50,364.5h7M179,364.5h2M185,364.5h6M200,364.5h3M219,364.5h2M975,364.5h3M1055,399.5h2M326,54.5h2M350,54.5h2M482,54.5h2M853,537.5h5M988,514.5h2M1020,514.5h2M1362,397.5h2M249,77.5h2M625,77.5h3M2,203.5h4M276,203.5h2M1270,412.5h2M1109,432.5h2M6,271.5h2M3,269.5h2M1290,341.5h2M356,51.5h2M564,158.5h2M1269,330.5h3M491,178.5h6M637,178.5h2M954,451.5h2M1034,451.5h2M1077,451.5h3M1062,526.5h2M661,139.5h2M94,379.5h2M152,379.5h4M868,379.5h2M1027,379.5h2M10,205.5h4M612,149.5h2M989,442.5h6M1014,442.5h2M990,513.5h2M1018,513.5h2M881,456.5h4M1044,456.5h4M1065,456.5h2M575,87.5h4M603,87.5h10M497,177.5h6M1157,524.5h2M559,84.5h3M361,49.5h2M285,60.5h2M307,60.5h2M337,60.5h2M340,60.5h2M259,72.5h3M649,72.5h2M1359,395.5h2M279,63.5h2M496,63.5h2M267,210.5h2M650,132.5h2M642,129.5h3M262,213.5h2M358,50.5h3M476,50.5h2M1279,334.5h3M365,47.5h2M472,47.5h2M53,243.5h2M81,243.5h2M268,68.5h3M502,68.5h2M659,68.5h3M873,541.5h6M1130,541.5h4M657,136.5h2M1024,516.5h2M992,512.5h2M1016,512.5h2M257,73.5h2M1268,251.5h3M1301,251.5h2M1318,463.5h2M1335,463.5h6M277,64.5h2M825,572.5h2M1324,466.5h2M964,536.5h2M15.5,277v1M15.5,348v1M315.5,53v1M315.5,159v2M315.5,262v2M651.5,195v2M816.5,241v5M816.5,411v2M741.5,28v1M741.5,267v2M741.5,506v2M680.5,53v1M680.5,155v2M680.5,257v4M1315.5,360v1M1315.5,461v1M43.5,231v1M847.5,369v3M847.5,544v1M196.5,180v2M196.5,271v1M757.5,66v3M757.5,296v2M757.5,529v1M319.5,153v1M319.5,251v2M848.5,372v2M848.5,456v1M848.5,542v2M1203.5,243v2M1203.5,333v1M1203.5,419v4M1026.5,378v1M1354.5,323v2M181.5,210v2M181.5,286v1M1147.5,258v2M1147.5,394v1M1147.5,533v1M811.5,222v4M811.5,401v2M1037.5,387v1M758.5,69v3M758.5,298v2M758.5,530v1M722.5,231v2M722.5,449v3M682.5,50v1M682.5,158v2M682.5,264v4M694.5,39v2M694.5,178v2M694.5,312v7M827.5,288v5M827.5,433v2M310.5,58v1M310.5,167v1M310.5,274v2M824.5,276v4M824.5,427v2M557.5,164v1M1084.5,355v2M764.5,84v2M764.5,310v2M764.5,536v1M723.5,233v2M723.5,452v3M683.5,49v1M683.5,160v1M683.5,268v3M192.5,188v2M192.5,275v1M686.5,165v1M686.5,279v3M1318.5,262v1M1318.5,363v1M204.5,160v3M204.5,261v1M1261.5,402v1M849.5,374v2M849.5,457v1M849.5,541v1M835.5,326v4M835.5,444v1M835.5,559v2M727.5,241v2M727.5,465v4M840.5,345v4M840.5,449v1M840.5,552v2M1322.5,267v2M1322.5,367v1M224.5,112v2M224.5,237v1M224.5,361v1M766.5,88v3M766.5,314v2M766.5,538v1M1080.5,361v2M1080.5,539v1M275.5,204v1M275.5,343v1M1.5,332v1M1127.5,293v2M1127.5,417v1M1207.5,251v2M1207.5,402v4M730.5,247v2M730.5,478v4M1112.5,313v2M1131.5,285v2M1131.5,413v1M621.5,162v1M706.5,202v1M706.5,382v6M1308.5,454v1M697.5,32v2M697.5,184v2M697.5,332v6M1107.5,320v2M1198.5,233v2M1198.5,337v1M1198.5,438v4M270.5,208v1M270.5,349v1M846.5,365v4M846.5,545v1M812.5,226v3M812.5,403v2M793.5,161v3M793.5,364v3M793.5,565v1M625.5,168v2M690.5,172v1M690.5,294v4M1177.5,359v1M1177.5,500v2M719.5,225v2M719.5,440v3M775.5,111v3M775.5,329v2M775.5,547v1M22.5,283v1M22.5,354v1M786.5,141v2M786.5,349v2M786.5,558v1M747.5,39v2M747.5,278v2M747.5,517v1M820.5,261v4M820.5,419v2M750.5,47v2M750.5,283v2M750.5,521v1M796.5,170v3M796.5,371v2M823.5,272v4M823.5,425v2M787.5,143v3M787.5,351v3M787.5,559v1M833.5,317v4M833.5,441v2M833.5,563v2M1311.5,357v1M1311.5,457v1M751.5,49v3M751.5,285v2M751.5,522v1M1178.5,358v1M1178.5,498v2M1123.5,300v1M1123.5,422v1M740.5,265v2M740.5,504v2M799.5,179v4M799.5,377v2M799.5,570v1M1173.5,364v1M1173.5,508v1M1044.5,394v1M715.5,217v2M715.5,425v4M1211.5,259v2M1211.5,391v2M794.5,164v3M794.5,367v2M794.5,566v1M294.5,185v1M294.5,309v2M785.5,138v3M785.5,347v2M785.5,557v1M306.5,171v2M306.5,283v2M712.5,212v2M712.5,413v4M1115.5,309v2M244.5,80v1M1095.5,339v2M1095.5,444v1M216.5,129v3M216.5,246v2M1193.5,227v1M1193.5,342v1M1193.5,457v3M1067.5,382v2M696.5,34v3M696.5,182v2M696.5,325v7M191.5,190v2M191.5,276v2M759.5,72v2M759.5,300v2M759.5,531v1M203.5,163v3M203.5,262v1M672.5,147v1M672.5,234v3M791.5,155v3M791.5,360v2M791.5,563v1M669.5,228v2M834.5,321v5M834.5,443v1M834.5,561v2M1110.5,316v2M211.5,142v2M211.5,252v2M1190.5,223v1M1190.5,345v1M1190.5,467v3M1331.5,283v2M231.5,99v2M231.5,231v1M290.5,189v1M290.5,317v2M792.5,158v3M792.5,362v2M792.5,564v1M572.5,152v1M302.5,176v1M302.5,291v2M11.5,344v1M829.5,298v5M829.5,436v1M675.5,149v1M675.5,242v3M1332.5,285v2M1332.5,376v1M210.5,144v3M210.5,254v1M322.5,148v2M322.5,242v3M12.5,345v1M1165.5,230v1M1165.5,373v2M1165.5,518v1M830.5,303v5M830.5,437v2M830.5,569v1M676.5,57v1M676.5,150v1M676.5,245v3M47.5,236v2M47.5,302v1M208.5,150v2M208.5,256v1M41.5,228v2M41.5,298v1M743.5,31v2M743.5,271v1M743.5,510v1M843.5,355v4M843.5,452v1M843.5,549v1M650.5,192v3M809.5,214v4M809.5,397v2M44.5,232v2M44.5,300v1M347.5,56v1M347.5,191v1M753.5,55v3M753.5,289v2M753.5,524v1M1146.5,260v1M1146.5,395v1M45.5,234v1M426.5,191v1M1317.5,261v1M1317.5,362v1M736.5,257v2M736.5,494v3M1161.5,235v1M1161.5,380v1M1161.5,521v1M330.5,139v1M330.5,222v2M1166.5,229v1M1166.5,372v1M207.5,152v3M207.5,257v2M709.5,207v2M709.5,398v5M702.5,194v2M702.5,358v6M487.5,57v1M325.5,144v1M325.5,234v3M1141.5,267v2M1141.5,401v1M1141.5,538v1M1065.5,385v2M1065.5,528v1M825.5,280v4M825.5,429v2M1070.5,377v2M1070.5,532v1M828.5,293v5M828.5,435v1M1197.5,231v2M1197.5,338v1M1197.5,442v4M1357.5,327v2M721.5,229v2M721.5,446v3M979.5,524v1M685.5,47v1M685.5,163v2M685.5,275v4M1172.5,222v1M1172.5,365v1M1172.5,509v2M1252.5,390v1M1184.5,351v1M1184.5,484v3M802.5,190v3M802.5,383v2M802.5,572v1M661.5,213v2M763.5,81v3M763.5,308v2M763.5,535v1M1320.5,265v1M1320.5,365v1M1210.5,257v2M1210.5,327v1M1210.5,393v2M293.5,186v1M293.5,311v2M836.5,330v4M836.5,445v1M836.5,558v1M622.5,79v1M622.5,163v2M767.5,91v2M767.5,316v2M767.5,539v1M1324.5,270v2M1324.5,369v1M1263.5,404v1M1201.5,239v2M1201.5,427v4M1066.5,384v1M1066.5,529v1M839.5,341v4M839.5,448v1M839.5,554v1M805.5,200v4M805.5,389v2M788.5,146v3M788.5,354v2M788.5,560v1M768.5,93v3M768.5,318v1M768.5,540v1M3.5,334v2M705.5,200v2M705.5,376v6M698.5,30v2M698.5,186v2M698.5,338v5M301.5,177v1M301.5,293v2M689.5,170v2M689.5,290v4M770.5,98v3M770.5,321v2M770.5,542v1M313.5,55v1M313.5,162v2M313.5,267v3M1169.5,226v1M1169.5,368v2M1169.5,514v2M289.5,190v1M289.5,319v2M732.5,251v1M732.5,484v3M18.5,280v1M18.5,350v1M1062.5,391v1M332.5,57v1M332.5,137v1M332.5,217v2M646.5,184v2M718.5,223v2M718.5,437v3M1154.5,245v2M1154.5,387v1M1154.5,527v1M185.5,202v2M1090.5,346v2M1090.5,546v1M1205.5,247v2M1205.5,331v1M1205.5,410v5M982.5,520v1M285.5,195v1M285.5,326v2M832.5,313v4M832.5,440v1M832.5,565v2M780.5,125v2M780.5,337v2M780.5,552v1M821.5,265v4M821.5,421v2M1196.5,230v1M1196.5,339v1M1196.5,446v4M653.5,199v2M1150.5,252v2M1150.5,391v1M1150.5,530v1M714.5,215v2M714.5,421v4M329.5,140v1M329.5,224v3M717.5,221v2M717.5,433v4M684.5,48v1M684.5,161v2M684.5,271v4M86.5,238v2M86.5,372v1M795.5,167v3M795.5,369v2M795.5,567v1M1061.5,392v2M1061.5,525v1M1054.5,400v1M1054.5,519v1M324.5,145v2M324.5,237v3M1046.5,396v1M711.5,210v2M711.5,408v5M699.5,28v2M699.5,188v2M699.5,343v5M704.5,198v2M704.5,370v6M670.5,145v1M670.5,230v2M1192.5,225v2M1192.5,343v1M1192.5,460v3M695.5,37v2M695.5,180v2M695.5,319v6M815.5,237v4M815.5,409v2M1096.5,338v1M1096.5,443v1M337.5,131v1M337.5,204v3M214.5,134v2M214.5,249v1M761.5,76v3M761.5,304v2M761.5,533v1M875.5,375v1M748.5,41v3M748.5,280v2M748.5,518v1M1200.5,237v2M1200.5,431v3M1330.5,281v2M803.5,193v4M803.5,385v2M745.5,35v2M745.5,274v2M745.5,513v2M37.5,224v1M37.5,295v1M731.5,249v2M731.5,482v2M288.5,191v1M288.5,321v2M1209.5,255v2M1209.5,328v1M1209.5,395v3M300.5,178v1M300.5,295v3M38.5,225v1M38.5,296v1M1212.5,261v1M1212.5,389v2M312.5,56v1M312.5,164v1M312.5,270v2M781.5,127v3M781.5,339v2M781.5,553v1M1180.5,356v1M1180.5,494v2M778.5,119v3M778.5,334v1M778.5,550v1M752.5,52v3M752.5,287v2M752.5,523v1M808.5,211v3M808.5,395v2M1089.5,348v1M284.5,196v1M284.5,328v2M291.5,188v1M291.5,315v2M738.5,261v2M738.5,499v3M311.5,57v1M311.5,165v2M311.5,272v2M1342.5,304v2M1342.5,384v1M659.5,137v1M659.5,210v2M180.5,212v2M180.5,287v1M724.5,235v2M724.5,455v3M831.5,308v5M831.5,439v1M831.5,567v2M663.5,66v1M663.5,140v1M663.5,217v1M1151.5,250v2M1151.5,390v1M1151.5,529v1M783.5,133v2M783.5,343v2M783.5,555v1M85.5,240v1M280.5,200v1M280.5,335v2M801.5,186v4M801.5,381v2M193.5,186v2M193.5,274v1M1265.5,406v2M769.5,96v2M769.5,319v2M769.5,541v1M303.5,175v1M303.5,289v2M213.5,136v3M213.5,250v1M804.5,197v3M804.5,387v2M1326.5,273v2M1326.5,371v1M336.5,132v1M336.5,207v2M5.5,270v1M5.5,337v1M688.5,168v2M688.5,286v4M298.5,181v1M298.5,300v2M33.5,221v1M33.5,292v1M6.5,338v1M818.5,252v5M818.5,415v2M617.5,83v1M617.5,155v2M790.5,152v3M790.5,358v2M790.5,562v1M1076.5,368v1M1076.5,536v1M34.5,222v1M34.5,293v1M677.5,56v1M677.5,151v2M677.5,248v3M314.5,54v1M314.5,161v1M314.5,264v3M221.5,118v2M221.5,241v1M221.5,363v1M295.5,184v1M295.5,306v3M961.5,539v1M492.5,60v1M652.5,197v2M1159.5,237v2M1159.5,382v1M1159.5,523v1M186.5,200v2M186.5,282v1M660.5,138v1M660.5,212v1M710.5,209v1M710.5,403v5M1327.5,275v2M1327.5,372v1M1351.5,319v2M1187.5,348v1M1187.5,476v3M1140.5,269v1M1140.5,402v1M703.5,196v2M703.5,364v6M762.5,79v2M762.5,306v2M762.5,534v1M1135.5,277v2M1135.5,408v1M240.5,85v2M1079.5,363v2M274.5,205v1M274.5,344v1M1294.5,344v1M1294.5,436v2M850.5,376v3M850.5,540v1M1171.5,223v1M1171.5,366v1M1171.5,511v2M779.5,122v3M779.5,335v2M779.5,551v1M188.5,196v2M188.5,280v1M1139.5,270v2M1139.5,403v1M200.5,171v3M200.5,266v1M29.5,217v1M29.5,289v1M845.5,362v3M845.5,454v1M845.5,546v1M323.5,147v1M323.5,240v2M1339.5,299v2M1339.5,382v1M1075.5,369v2M1182.5,353v1M1182.5,490v2M220.5,120v3M220.5,242v1M49.5,239v1M700.5,190v2M700.5,348v5M1343.5,306v1M720.5,227v2M720.5,443v3M1122.5,301v1M1122.5,423v1M1040.5,390v1M1333.5,287v2M1333.5,377v1M1077.5,366v2M1077.5,537v1M656.5,135v1M656.5,205v1M1029.5,380v1M1186.5,349v1M1186.5,479v2M321.5,150v1M321.5,245v3M782.5,130v3M782.5,341v2M782.5,554v1M243.5,81v2M726.5,239v2M726.5,461v4M1174.5,362v2M1174.5,506v2M215.5,132v2M215.5,248v1M744.5,33v2M744.5,272v2M744.5,511v2M1267.5,409v1M1189.5,222v1M1189.5,346v1M1189.5,470v3M1268.5,410v1M571.5,153v1M1204.5,245v2M1204.5,332v1M1204.5,415v4M614.5,150v2M24.5,213v1M24.5,285v1M1335.5,291v2M1335.5,379v1M187.5,198v2M187.5,281v1M1170.5,224v2M1170.5,367v1M1170.5,513v1M1181.5,354v2M1181.5,492v2M983.5,519v1M1086.5,352v1M1086.5,543v1M475.5,49v1M183.5,206v2M183.5,284v1M269.5,209v1M269.5,350v1M1134.5,279v2M1134.5,409v1M760.5,74v2M760.5,302v2M760.5,532v1M1329.5,279v2M1329.5,374v1M1073.5,373v1M1073.5,534v1M978.5,525v1M826.5,284v4M826.5,431v2M1281.5,419v1M320.5,151v2M320.5,248v3M681.5,51v2M681.5,157v1M681.5,261v3M725.5,237v2M725.5,458v3M776.5,114v3M776.5,331v1M776.5,548v1M1292.5,342v1M1292.5,433v1M1094.5,341v1M1094.5,445v1M872.5,377v1M1153.5,247v2M1153.5,388v1M93.5,230v1M93.5,378v1M30.5,218v1M30.5,290v1M842.5,352v3M842.5,451v1M842.5,550v1M331.5,138v1M331.5,219v3M819.5,257v4M819.5,417v2M297.5,182v1M297.5,302v2M691.5,173v2M691.5,298v4M1341.5,302v2M814.5,233v4M814.5,407v2M692.5,43v1M692.5,175v2M692.5,302v4M624.5,166v2M777.5,117v2M777.5,332v2M777.5,549v1M1345.5,309v2M1345.5,386v1M197.5,178v2M197.5,269v2M1149.5,254v2M1149.5,392v1M1149.5,531v1M309.5,59v1M309.5,168v1M309.5,276v2M798.5,176v3M798.5,375v2M798.5,569v1M789.5,149v3M789.5,356v2M789.5,561v1M471.5,46v1M958.5,542v1M1085.5,353v2M742.5,29v2M742.5,269v2M742.5,508v2M1042.5,392v1M206.5,155v3M206.5,259v1M1043.5,393v1M1069.5,379v2M1069.5,531v1M746.5,37v2M746.5,276v2M746.5,515v2M577.5,148v1M555.5,166v1M1277.5,416v1M225.5,110v2M225.5,236v1M225.5,360v1M276.5,341v2M1202.5,241v2M1202.5,334v1M1202.5,423v4M671.5,60v1M671.5,146v1M671.5,232v2M92.5,231v1M92.5,377v1M615.5,152v1M97.5,226v1M21.5,211v1M21.5,282v1M21.5,353v1M1313.5,258v1M1313.5,459v1M616.5,84v1M616.5,153v2M10.5,342v2M26.5,215v1M26.5,287v1M26.5,357v1M1334.5,289v2M1334.5,378v1M630.5,173v1M844.5,359v3M844.5,453v1M844.5,547v2M504.5,69v1M962.5,538v1M701.5,192v2M701.5,353v5M296.5,183v1M296.5,304v2M1148.5,256v2M1148.5,393v1M1148.5,532v1M308.5,169v1M308.5,278v2M1156.5,242v2M1156.5,385v1M1156.5,525v1M1176.5,360v1M1176.5,502v2M1355.5,325v1M1355.5,392v1M1194.5,228v1M1194.5,341v1M1194.5,453v4M307.5,170v1M307.5,280v3M1064.5,387v2M1064.5,527v1M279.5,201v1M279.5,337v2M205.5,158v2M205.5,260v1M1116.5,308v1M1144.5,263v1M1144.5,398v1M1144.5,535v1M687.5,166v2M687.5,282v4M176.5,290v1M176.5,366v1M316.5,158v1M316.5,259v3M765.5,86v2M765.5,312v2M765.5,537v1M728.5,243v2M728.5,469v5M1298.5,347v1M1298.5,442v1M88.5,236v1M88.5,374v1M209.5,147v3M209.5,255v1M28.5,359v1M813.5,229v4M813.5,405v2M626.5,170v1M648.5,73v1M648.5,188v2M233.5,95v2M233.5,229v1M1183.5,352v1M1183.5,487v3M499.5,65v1M271.5,207v1M271.5,347v2M1071.5,376v1M797.5,173v3M797.5,373v2M500.5,66v1M667.5,63v1M667.5,143v1M667.5,224v2M1216.5,385v1M1286.5,337v1M1286.5,424v1M1164.5,231v1M1164.5,375v2M1164.5,519v1M838.5,338v3M838.5,447v1M838.5,555v1M1059.5,396v1M1059.5,523v1M1060.5,394v2M1060.5,524v1M1100.5,331v2M1175.5,361v1M1175.5,504v2M1143.5,264v2M1143.5,399v1M1143.5,536v1M8.5,272v1M8.5,340v1M23.5,284v1M23.5,355v1M693.5,41v2M693.5,177v1M693.5,306v6M810.5,218v4M810.5,399v2M343.5,194v1M495.5,62v1M1103.5,327v1M1103.5,437v1M232.5,97v2M232.5,230v1M506.5,71v1M1036.5,386v1M737.5,259v2M737.5,497v2M1051.5,401v1M1055.5,520v1M1253.5,391v2M228.5,104v2M228.5,358v1M1158.5,239v2M1158.5,383v1M662.5,67v1M662.5,215v2M339.5,61v1M339.5,129v1M339.5,199v3M665.5,220v2M576.5,149v1M1188.5,347v1M1188.5,473v3M1328.5,277v2M1328.5,373v1M1325.5,272v1M1325.5,370v1M772.5,104v2M772.5,324v2M772.5,544v1M716.5,219v2M716.5,429v4M1142.5,266v1M1142.5,400v1M1142.5,537v1M647.5,186v2M91.5,232v2M91.5,376v1M822.5,269v3M822.5,423v2M654.5,201v2M318.5,154v2M318.5,253v3M1288.5,339v1M1288.5,427v1M955.5,544v1M304.5,174v1M304.5,287v2M338.5,130v1M338.5,202v2M773.5,106v3M773.5,326v1M773.5,545v1M1114.5,311v1M1114.5,429v1M729.5,245v2M729.5,474v4M807.5,207v4M807.5,393v2M169.5,371v1M25.5,214v1M25.5,286v1M1350.5,318v1M1350.5,389v1M48.5,238v1M478.5,51v1M1038.5,388v1M1359.5,330v1M664.5,218v2M784.5,135v3M784.5,345v2M784.5,556v1M1284.5,421v1M1255.5,394v1M851.5,379v2M851.5,539v1M1145.5,261v2M1145.5,396v2M1285.5,422v2M679.5,54v1M679.5,154v1M679.5,253v4M1266.5,408v1M1302.5,350v1M1302.5,447v1M238.5,88v1M238.5,225v1M1206.5,249v2M1206.5,330v1M1206.5,406v4M272.5,346v1M674.5,240v2M774.5,109v2M774.5,327v2M774.5,546v1M735.5,255v2M735.5,492v2M1303.5,448v1M1363.5,333v1M1363.5,462v1M1128.5,291v2M1128.5,416v1M226.5,108v2M226.5,235v1M613.5,86v1M1179.5,357v1M1179.5,496v2M1105.5,323v2M1105.5,435v1M755.5,61v2M755.5,293v2M755.5,527v1M1120.5,303v1M1120.5,425v1M1155.5,244v1M1155.5,386v1M1155.5,526v1M474.5,48v1M182.5,208v2M182.5,285v1M202.5,166v2M202.5,263v2M1213.5,387v2M558.5,163v1M852.5,381v1M852.5,538v1M1280.5,418v1M806.5,204v3M806.5,391v2M1132.5,283v2M1132.5,412v1M13.5,275v1M13.5,346v1M35.5,364v1M237.5,89v2M237.5,226v1M16.5,207v1M16.5,278v1M633.5,175v1M984.5,518v1M46.5,235v1M708.5,205v2M708.5,393v5M707.5,203v2M707.5,388v5M50.5,240v2M1344.5,307v2M344.5,193v1M885.5,368v1M666.5,64v1M666.5,142v1M666.5,222v2M1347.5,313v1M1163.5,232v2M1163.5,377v1M1041.5,391v1M976.5,527v1M1257.5,397v1M1290.5,430v1M713.5,214v1M713.5,417v4M817.5,246v6M817.5,413v2M19.5,209v1M19.5,351v1M334.5,134v1M334.5,212v2M1304.5,449v1M278.5,202v1M278.5,339v1M20.5,210v1M20.5,352v1M199.5,174v2M199.5,267v1M1336.5,293v2M513.5,77v1M514.5,78v1M754.5,58v3M754.5,291v2M754.5,525v2M484.5,55v1M1162.5,234v1M1162.5,378v2M1047.5,397v1M1048.5,398v1M1249.5,388v1M1098.5,335v1M1098.5,441v1M1130.5,287v2M1130.5,414v1M575.5,150v1M317.5,156v2M317.5,256v3M1296.5,440v1M14.5,276v1M14.5,347v1M282.5,198v1M282.5,332v1M1111.5,315v1M1111.5,431v1M335.5,133v1M335.5,209v3M771.5,101v3M771.5,323v1M771.5,543v1M643.5,182v1M166.5,373v1M198.5,176v2M198.5,268v1M90.5,234v1M509.5,74v1M1349.5,316v2M1295.5,345v1M1295.5,438v2M498.5,64v1M1087.5,350v2M1087.5,544v1M954.5,545v1M1082.5,358v2M1259.5,399v2M342.5,59v1M342.5,195v1M800.5,183v3M800.5,379v2M1129.5,289v2M1129.5,415v1M551.5,169v1M0.5,267v1M0.5,331v1M1078.5,365v1M1307.5,452v2M273.5,345v1M749.5,44v3M749.5,282v1M749.5,519v2M620.5,160v2M562.5,160v1M1338.5,297v2M1338.5,381v1M1074.5,371v2M739.5,263v2M739.5,502v2M1083.5,357v1M1083.5,541v1M1049.5,399v1M1121.5,302v1M1121.5,424v1M1050.5,400v1M292.5,187v1M292.5,313v2M878.5,373v1M1195.5,229v1M1195.5,340v1M1195.5,450v3M242.5,83v1M1199.5,235v2M1199.5,336v1M1199.5,434v4M1113.5,312v1M1152.5,249v1M1152.5,389v1M1299.5,348v1M1299.5,443v2M1133.5,281v2M1133.5,410v2M618.5,82v1M618.5,157v1M1124.5,298v2M1124.5,421v1M190.5,192v2M190.5,278v1M1104.5,325v2M1104.5,436v1M1316.5,361v1M201.5,168v3M201.5,265v1M481.5,53v1M217.5,127v2M217.5,245v1M1246.5,386v1M1136.5,275v2M1136.5,407v1M236.5,91v1M236.5,227v1M1191.5,224v1M1191.5,344v1M1191.5,463v4M841.5,349v3M841.5,450v1M841.5,551v1M1309.5,255v1M1309.5,355v1M1309.5,455v1M640.5,180v1M1167.5,228v1M1167.5,371v1M734.5,489v3M84.5,241v1M975.5,528v1M1358.5,329v1M1358.5,394v1M1099.5,333v2M1314.5,259v1M1314.5,359v1M1314.5,460v1M837.5,334v4M837.5,446v1M837.5,556v2M1300.5,445v1M1063.5,389v2M333.5,135v2M333.5,214v3M1301.5,446v1M987.5,515v1M636.5,177v1M31.5,219v1M31.5,361v1M195.5,182v2M195.5,272v1M340.5,128v1M340.5,197v2M103.5,221v1M227.5,106v2M227.5,234v1M552.5,168v1M281.5,199v1M281.5,333v2M4.5,336v1M94.5,229v1M223.5,114v2M223.5,238v1M1126.5,295v2M1126.5,418v1M89.5,235v1M505.5,70v1M959.5,541v1M559.5,162v1M1356.5,326v1M194.5,184v2M194.5,273v1M1138.5,272v1M1138.5,404v2M668.5,62v1M668.5,226v2M1256.5,395v2M1289.5,340v1M1289.5,428v2M173.5,368v1M970.5,532v1M1109.5,318v1M222.5,116v2M222.5,239v2M567.5,156v1M678.5,55v1M678.5,153v1M678.5,251v2M501.5,67v1M1125.5,297v1M1125.5,419v2M756.5,63v3M756.5,295v1M756.5,528v1M1045.5,395v1M977.5,526v1M1097.5,336v2M1097.5,442v1M218.5,125v2M218.5,244v1M241.5,84v1M1157.5,241v1M1157.5,384v1M189.5,194v2M189.5,279v1M230.5,101v2M230.5,232v1M1168.5,227v1M1168.5,370v1M1168.5,516v1M507.5,72v1M1072.5,374v2M1293.5,343v1M1293.5,434v2M508.5,73v1M981.5,521v2M1348.5,314v2M1052.5,402v1M328.5,141v1M328.5,227v2M1160.5,236v1M1160.5,381v1M1160.5,522v1M283.5,197v1M283.5,330v2M1287.5,338v1M1287.5,425v2M1291.5,431v2M96.5,227v1M673.5,237v3M1208.5,253v2M1208.5,398v4M1092.5,343v2M287.5,192v2M287.5,323v2M299.5,179v2M299.5,298v2M431.5,188v1M1340.5,301v1M655.5,203v2M658.5,208v2M83.5,242v1M952.5,547v1M327.5,142v1M327.5,229v3M212.5,139v3M212.5,251v1M1058.5,397v1M1058.5,522v1M1346.5,311v2M1360.5,331v1M1119.5,304v2M1025.5,377v1M305.5,173v1M305.5,285v2M102.5,222v1M326.5,143v1M326.5,232v2M1260.5,401v1M170.5,370v1M967.5,534v1M733.5,487v2M219.5,123v2M219.5,243v1M1310.5,356v1M1310.5,456v1M421.5,194v1M884.5,369v1M1185.5,350v1M1185.5,481v3M1117.5,307v1M1117.5,427v1M1312.5,257v1M1312.5,458v1M1108.5,319v1M1108.5,433v1M234.5,93v2M566.5,157v1M40.5,227v1M649.5,190v2M1137.5,273v2M1137.5,406v1M1305.5,352v1M1305.5,450v1M1102.5,328v2M1102.5,438v1M341.5,196v1M1306.5,353v1M1306.5,451v1M1068.5,381v1M1319.5,263v2M1319.5,364v1M1262.5,403v1M32.5,220v1M32.5,362v1M619.5,81v1M619.5,158v2M985.5,517v1M1088.5,349v1M1057.5,398v1M1323.5,269v1M1323.5,368v1M980.5,523v1M953.5,546v1M95.5,228v1M9.5,341v1M27.5,358v1M550.5,170v1M286.5,194v1M286.5,325v1M42.5,230v1M510.5,75v1M266.5,211v1M266.5,352v1M960.5,540v1M87.5,237v1M87.5,373v1M1321.5,266v1M1321.5,366v1M1032.5,383v1M1118.5,306v1M101.5,223v1M881.5,371v1M966.5,535v1M17.5,279v1M1106.5,322v1M235.5,92v1M563.5,159v1M1039.5,389v1M657.5,206v2M2.5,333v1M974.5,529v1M1093.5,342v1M349.5,189v1M891.5,364v1M1101.5,330v1M1101.5,439v1M1254.5,393v1M184.5,204v2M1337.5,295v2M263.5,354v1M580.5,146v1M1264.5,405v1M100.5,224v1M1276.5,415v1M549.5,171v1M629.5,172v1M39.5,226v1M556.5,165v1M277.5,340v1M177.5,289v1M1297.5,441v1M963.5,537v1M7.5,339v1M971.5,531v1M239.5,87v1M986.5,516v1M639.5,179v1M1352.5,321v1M888.5,366v1M1035.5,385v1M1353.5,322v1M1258.5,398v1M951.5,548v1M570.5,154v1M348.5,190v1M623.5,165v1M1361.5,396v1M515.5,79v1M1030.5,381v1M1053.5,401v1M229.5,103v1M1031.5,382v1M1269.5,411v1M1081.5,360v1M1091.5,345v1" fill="none" stroke="#2eab62" stroke-width="1"/></g><g shape-rendering="crispEdges"><rect x="0" y="371" width="1624" height="2" fill="#ff0000"/><rect x="0" y="387" width="1624" height="2" fill="#ff0000"/><rect x="0" y="407" width="1477" height="2" fill="#32cd32"/><rect x="1587" y="407" width="37" height="2" fill="#32cd32"/><rect x="0" y="450" width="1624" height="2" fill="#0000ff"/><rect x="0" y="470" width="1624" height="2" fill="#0000ff"/><rect x="1618" y="369" width="6" height="6" fill="#ff0000"/><rect x="1620" y="371" width="2" height="2" fill="#fff"/><rect x="1618" y="385" width="6" height="6" fill="#ff0000"/><rect x="1620" y="387" width="2" height="2" fill="#fff"/><rect x="1618" y="405" width="6" height="6" fill="#32cd32"/><rect x="1620" y="407" width="2" height="2" fill="#fff"/><rect x="1618" y="448" width="6" height="6" fill="#0000ff"/><rect x="1620" y="450" width="2" height="2" fill="#fff"/><rect x="0" y="369" width="1" height="6" fill="#ff0000"/><rect x="0" y="385" width="1" height="6" fill="#ff0000"/><rect x="0" y="405" width="1" height="6" fill="#32cd32"/><rect x="0" y="448" width="1" height="6" fill="#0000ff"/><rect x="1477" y="408" width="8" height="1" fill="#ff0000"/><rect x="1484" y="406" width="4" height="5" fill="#ff0000"/><rect x="1485" y="407" width="2" height="3" fill="#fff"/><rect x="4" y="313" width="1" height="28" fill="#000"/><rect x="2" y="315" width="5" height="24" fill="#000"/><rect x="12" y="325" width="1" height="30" fill="#000"/><rect x="10" y="332" width="5" height="14" fill="#000"/><rect x="20" y="335" width="1" height="15" fill="#000"/><rect x="18" y="338" width="5" height="11" fill="#000"/><rect x="19" y="339" width="3" height="9" fill="#fff"/><rect x="28" y="318" width="1" height="43" fill="#000"/><rect x="26" y="318" width="5" height="29" fill="#000"/><rect x="36" y="346" width="1" height="19" fill="#000"/><rect x="34" y="346" width="5" height="6" fill="#000"/><rect x="44" y="304" width="1" height="33" fill="#000"/><rect x="42" y="313" width="5" height="14" fill="#000"/><rect x="52" y="322" width="1" height="23" fill="#000"/><rect x="50" y="327" width="5" height="1" fill="#000"/><rect x="60" y="320" width="1" height="21" fill="#000"/><rect x="58" y="324" width="5" height="11" fill="#000"/><rect x="59" y="325" width="3" height="9" fill="#fff"/><rect x="68" y="318" width="1" height="21" fill="#000"/><rect x="66" y="322" width="5" height="4" fill="#000"/><rect x="67" y="323" width="3" height="2" fill="#fff"/><rect x="76" y="244" width="1" height="59" fill="#000"/><rect x="74" y="253" width="5" height="37" fill="#000"/><rect x="75" y="254" width="3" height="35" fill="#fff"/><rect x="84" y="242" width="1" height="13" fill="#000"/><rect x="82" y="247" width="5" height="6" fill="#000"/><rect x="83" y="248" width="3" height="4" fill="#fff"/><rect x="92" y="215" width="1" height="32" fill="#000"/><rect x="90" y="220" width="5" height="21" fill="#000"/><rect x="91" y="221" width="3" height="19" fill="#fff"/><rect x="100" y="213" width="1" height="14" fill="#000"/><rect x="98" y="220" width="5" height="3" fill="#000"/><rect x="108" y="234" width="1" height="45" fill="#000"/><rect x="106" y="234" width="5" height="40" fill="#000"/><rect x="116" y="272" width="1" height="20" fill="#000"/><rect x="114" y="273" width="5" height="17" fill="#000"/><rect x="124" y="292" width="1" height="49" fill="#000"/><rect x="122" y="298" width="5" height="13" fill="#000"/><rect x="132" y="280" width="1" height="39" fill="#000"/><rect x="130" y="285" width="5" height="25" fill="#000"/><rect x="131" y="286" width="3" height="23" fill="#fff"/><rect x="140" y="284" width="1" height="25" fill="#000"/><rect x="138" y="290" width="5" height="9" fill="#000"/><rect x="148" y="294" width="1" height="17" fill="#000"/><rect x="146" y="296" width="5" height="3" fill="#000"/><rect x="156" y="251" width="1" height="56" fill="#000"/><rect x="154" y="277" width="5" height="27" fill="#000"/><rect x="155" y="278" width="3" height="25" fill="#fff"/><rect x="164" y="271" width="1" height="19" fill="#000"/><rect x="162" y="276" width="5" height="11" fill="#000"/><rect x="172" y="256" width="1" height="37" fill="#000"/><rect x="170" y="262" width="5" height="19" fill="#000"/><rect x="171" y="263" width="3" height="17" fill="#fff"/><rect x="180" y="242" width="1" height="27" fill="#000"/><rect x="178" y="251" width="5" height="12" fill="#000"/><rect x="179" y="252" width="3" height="10" fill="#fff"/><rect x="188" y="160" width="1" height="33" fill="#000"/><rect x="186" y="174" width="5" height="19" fill="#000"/><rect x="187" y="175" width="3" height="17" fill="#fff"/><rect x="196" y="164" width="1" height="14" fill="#000"/><rect x="194" y="166" width="5" height="8" fill="#000"/><rect x="195" y="167" width="3" height="6" fill="#fff"/><rect x="204" y="132" width="1" height="31" fill="#000"/><rect x="202" y="134" width="5" height="13" fill="#000"/><rect x="203" y="135" width="3" height="11" fill="#fff"/><rect x="212" y="122" width="1" height="23" fill="#000"/><rect x="210" y="123" width="5" height="12" fill="#000"/><rect x="211" y="124" width="3" height="10" fill="#fff"/><rect x="220" y="120" width="1" height="21" fill="#000"/><rect x="218" y="124" width="5" height="10" fill="#000"/><rect x="228" y="130" width="1" height="20" fill="#000"/><rect x="226" y="134" width="5" height="1" fill="#000"/><rect x="236" y="112" width="1" height="35" fill="#000"/><rect x="234" y="126" width="5" height="17" fill="#000"/><rect x="235" y="127" width="3" height="15" fill="#fff"/><rect x="244" y="128" width="1" height="11" fill="#000"/><rect x="242" y="128" width="5" height="6" fill="#000"/><rect x="252" y="125" width="1" height="47" fill="#000"/><rect x="250" y="133" width="5" height="32" fill="#000"/><rect x="260" y="160" width="1" height="15" fill="#000"/><rect x="258" y="165" width="5" height="1" fill="#000"/><rect x="268" y="156" width="1" height="36" fill="#000"/><rect x="266" y="166" width="5" height="14" fill="#000"/><rect x="267" y="167" width="3" height="12" fill="#fff"/><rect x="276" y="157" width="1" height="14" fill="#000"/><rect x="274" y="166" width="5" height="3" fill="#000"/><rect x="275" y="167" width="3" height="1" fill="#fff"/><rect x="284" y="119" width="1" height="36" fill="#000"/><rect x="282" y="120" width="5" height="26" fill="#000"/><rect x="283" y="121" width="3" height="24" fill="#fff"/><rect x="292" y="111" width="1" height="18" fill="#000"/><rect x="290" y="118" width="5" height="3" fill="#000"/><rect x="291" y="119" width="3" height="1" fill="#fff"/><rect x="300" y="115" width="1" height="26" fill="#000"/><rect x="298" y="122" width="5" height="12" fill="#000"/><rect x="308" y="122" width="1" height="19" fill="#000"/><rect x="306" y="123" width="5" height="11" fill="#000"/><rect x="307" y="124" width="3" height="9" fill="#fff"/><rect x="316" y="57" width="1" height="34" fill="#000"/><rect x="314" y="62" width="5" height="13" fill="#000"/><rect x="315" y="63" width="3" height="11" fill="#fff"/><rect x="324" y="59" width="1" height="18" fill="#000"/><rect x="322" y="61" width="5" height="12" fill="#000"/><rect x="332" y="71" width="1" height="22" fill="#000"/><rect x="330" y="78" width="5" height="4" fill="#000"/><rect x="331" y="79" width="3" height="2" fill="#fff"/><rect x="340" y="72" width="1" height="15" fill="#000"/><rect x="338" y="72" width="5" height="7" fill="#000"/><rect x="339" y="73" width="3" height="5" fill="#fff"/><rect x="348" y="54" width="1" height="28" fill="#000"/><rect x="346" y="68" width="5" height="8" fill="#000"/><rect x="356" y="69" width="1" height="16" fill="#000"/><rect x="354" y="75" width="5" height="8" fill="#000"/><rect x="364" y="69" width="1" height="26" fill="#000"/><rect x="362" y="79" width="5" height="3" fill="#000"/><rect x="363" y="80" width="3" height="1" fill="#fff"/><rect x="372" y="74" width="1" height="17" fill="#000"/><rect x="370" y="79" width="5" height="12" fill="#000"/><rect x="380" y="107" width="1" height="52" fill="#000"/><rect x="378" y="107" width="5" height="40" fill="#000"/><rect x="388" y="136" width="1" height="22" fill="#000"/><rect x="386" y="140" width="5" height="6" fill="#000"/><rect x="387" y="141" width="3" height="4" fill="#fff"/><rect x="396" y="134" width="1" height="40" fill="#000"/><rect x="394" y="138" width="5" height="33" fill="#000"/><rect x="404" y="159" width="1" height="14" fill="#000"/><rect x="402" y="168" width="5" height="5" fill="#000"/><rect x="412" y="143" width="1" height="24" fill="#000"/><rect x="410" y="148" width="5" height="11" fill="#000"/><rect x="420" y="154" width="1" height="12" fill="#000"/><rect x="418" y="160" width="5" height="1" fill="#000"/><rect x="428" y="110" width="1" height="31" fill="#000"/><rect x="426" y="118" width="5" height="18" fill="#000"/><rect x="427" y="119" width="3" height="16" fill="#fff"/><rect x="436" y="116" width="1" height="20" fill="#000"/><rect x="434" y="117" width="5" height="13" fill="#000"/><rect x="444" y="111" width="1" height="30" fill="#000"/><rect x="442" y="115" width="5" height="21" fill="#000"/><rect x="443" y="116" width="3" height="19" fill="#fff"/><rect x="452" y="115" width="1" height="11" fill="#000"/><rect x="450" y="115" width="5" height="5" fill="#000"/><rect x="460" y="112" width="1" height="66" fill="#000"/><rect x="458" y="116" width="5" height="26" fill="#000"/><rect x="459" y="117" width="3" height="24" fill="#fff"/><rect x="468" y="114" width="1" height="12" fill="#000"/><rect x="466" y="116" width="5" height="6" fill="#000"/><rect x="476" y="106" width="1" height="22" fill="#000"/><rect x="474" y="108" width="5" height="5" fill="#000"/><rect x="484" y="104" width="1" height="12" fill="#000"/><rect x="482" y="109" width="5" height="5" fill="#000"/><rect x="483" y="110" width="3" height="3" fill="#fff"/><rect x="492" y="114" width="1" height="27" fill="#000"/><rect x="490" y="120" width="5" height="7" fill="#000"/><rect x="491" y="121" width="3" height="5" fill="#fff"/><rect x="500" y="106" width="1" height="16" fill="#000"/><rect x="498" y="110" width="5" height="11" fill="#000"/><rect x="499" y="111" width="3" height="9" fill="#fff"/><rect x="508" y="121" width="1" height="26" fill="#000"/><rect x="506" y="128" width="5" height="19" fill="#000"/><rect x="507" y="129" width="3" height="17" fill="#fff"/><rect x="516" y="126" width="1" height="10" fill="#000"/><rect x="514" y="128" width="5" height="6" fill="#000"/><rect x="524" y="83" width="1" height="31" fill="#000"/><rect x="522" y="87" width="5" height="24" fill="#000"/><rect x="523" y="88" width="3" height="22" fill="#fff"/><rect x="532" y="85" width="1" height="8" fill="#000"/><rect x="530" y="85" width="5" height="3" fill="#000"/><rect x="531" y="86" width="3" height="1" fill="#fff"/><rect x="540" y="101" width="1" height="23" fill="#000"/><rect x="538" y="110" width="5" height="10" fill="#000"/><rect x="548" y="114" width="1" height="37" fill="#000"/><rect x="546" y="118" width="5" height="22" fill="#000"/><rect x="556" y="126" width="1" height="24" fill="#000"/><rect x="554" y="134" width="5" height="2" fill="#000"/><rect x="564" y="125" width="1" height="13" fill="#000"/><rect x="562" y="129" width="5" height="8" fill="#000"/><rect x="563" y="130" width="3" height="6" fill="#fff"/><rect x="572" y="91" width="1" height="29" fill="#000"/><rect x="570" y="95" width="5" height="19" fill="#000"/><rect x="571" y="96" width="3" height="17" fill="#fff"/><rect x="580" y="96" width="1" height="27" fill="#000"/><rect x="578" y="96" width="5" height="24" fill="#000"/><rect x="588" y="106" width="1" height="16" fill="#000"/><rect x="586" y="112" width="5" height="6" fill="#000"/><rect x="587" y="113" width="3" height="4" fill="#fff"/><rect x="596" y="108" width="1" height="6" fill="#000"/><rect x="594" y="112" width="5" height="2" fill="#000"/><rect x="604" y="131" width="1" height="21" fill="#000"/><rect x="602" y="135" width="5" height="6" fill="#000"/><rect x="603" y="136" width="3" height="4" fill="#fff"/><rect x="612" y="132" width="1" height="12" fill="#000"/><rect x="610" y="134" width="5" height="10" fill="#000"/><rect x="620" y="150" width="1" height="41" fill="#000"/><rect x="618" y="156" width="5" height="28" fill="#000"/><rect x="628" y="173" width="1" height="23" fill="#000"/><rect x="626" y="173" width="5" height="11" fill="#000"/><rect x="627" y="174" width="3" height="9" fill="#fff"/><rect x="636" y="157" width="1" height="23" fill="#000"/><rect x="634" y="168" width="5" height="8" fill="#000"/><rect x="635" y="169" width="3" height="6" fill="#fff"/><rect x="644" y="163" width="1" height="10" fill="#000"/><rect x="642" y="169" width="5" height="1" fill="#000"/><rect x="652" y="191" width="1" height="37" fill="#000"/><rect x="650" y="191" width="5" height="21" fill="#000"/><rect x="660" y="206" width="1" height="12" fill="#000"/><rect x="658" y="211" width="5" height="3" fill="#000"/><rect x="668" y="222" width="1" height="34" fill="#000"/><rect x="666" y="241" width="5" height="1" fill="#000"/><rect x="676" y="239" width="1" height="13" fill="#000"/><rect x="674" y="242" width="5" height="9" fill="#000"/><rect x="684" y="309" width="1" height="24" fill="#000"/><rect x="682" y="325" width="5" height="8" fill="#000"/><rect x="683" y="326" width="3" height="6" fill="#fff"/><rect x="692" y="314" width="1" height="16" fill="#000"/><rect x="690" y="323" width="5" height="5" fill="#000"/><rect x="700" y="355" width="1" height="69" fill="#000"/><rect x="698" y="372" width="5" height="40" fill="#000"/><rect x="708" y="406" width="1" height="16" fill="#000"/><rect x="706" y="411" width="5" height="11" fill="#000"/><rect x="716" y="430" width="1" height="89" fill="#000"/><rect x="714" y="434" width="5" height="85" fill="#000"/><rect x="715" y="435" width="3" height="83" fill="#fff"/><rect x="724" y="421" width="1" height="34" fill="#000"/><rect x="722" y="428" width="5" height="11" fill="#000"/><rect x="723" y="429" width="3" height="9" fill="#fff"/><rect x="732" y="431" width="1" height="38" fill="#000"/><rect x="730" y="436" width="5" height="12" fill="#000"/><rect x="740" y="429" width="1" height="27" fill="#000"/><rect x="738" y="431" width="5" height="18" fill="#000"/><rect x="739" y="432" width="3" height="16" fill="#fff"/><rect x="748" y="394" width="1" height="48" fill="#000"/><rect x="746" y="416" width="5" height="18" fill="#000"/><rect x="747" y="417" width="3" height="16" fill="#fff"/><rect x="756" y="410" width="1" height="18" fill="#000"/><rect x="754" y="417" width="5" height="5" fill="#000"/><rect x="764" y="400" width="1" height="40" fill="#000"/><rect x="762" y="412" width="5" height="14" fill="#000"/><rect x="772" y="417" width="1" height="29" fill="#000"/><rect x="770" y="428" width="5" height="12" fill="#000"/><rect x="780" y="423" width="1" height="35" fill="#000"/><rect x="778" y="441" width="5" height="17" fill="#000"/><rect x="779" y="442" width="3" height="15" fill="#fff"/><rect x="788" y="435" width="1" height="44" fill="#000"/><rect x="786" y="442" width="5" height="36" fill="#000"/><rect x="796" y="481" width="1" height="35" fill="#000"/><rect x="794" y="499" width="5" height="11" fill="#000"/><rect x="804" y="505" width="1" height="19" fill="#000"/><rect x="802" y="510" width="5" height="10" fill="#000"/><rect x="812" y="465" width="1" height="49" fill="#000"/><rect x="810" y="466" width="5" height="42" fill="#000"/><rect x="820" y="500" width="1" height="36" fill="#000"/><rect x="818" y="504" width="5" height="16" fill="#000"/><rect x="828" y="499" width="1" height="69" fill="#000"/><rect x="826" y="524" width="5" height="44" fill="#000"/><rect x="827" y="525" width="3" height="42" fill="#fff"/><rect x="836" y="487" width="1" height="40" fill="#000"/><rect x="834" y="493" width="5" height="30" fill="#000"/><rect x="835" y="494" width="3" height="28" fill="#fff"/><rect x="844" y="466" width="1" height="51" fill="#000"/><rect x="842" y="470" width="5" height="26" fill="#000"/><rect x="843" y="471" width="3" height="24" fill="#fff"/><rect x="852" y="456" width="1" height="21" fill="#000"/><rect x="850" y="468" width="5" height="4" fill="#000"/><rect x="851" y="469" width="3" height="2" fill="#fff"/><rect x="860" y="404" width="1" height="40" fill="#000"/><rect x="858" y="410" width="5" height="27" fill="#000"/><rect x="859" y="411" width="3" height="25" fill="#fff"/><rect x="868" y="390" width="1" height="21" fill="#000"/><rect x="866" y="402" width="5" height="9" fill="#000"/><rect x="867" y="403" width="3" height="7" fill="#fff"/><rect x="876" y="391" width="1" height="27" fill="#000"/><rect x="874" y="398" width="5" height="7" fill="#000"/><rect x="875" y="399" width="3" height="5" fill="#fff"/><rect x="884" y="390" width="1" height="22" fill="#000"/><rect x="882" y="399" width="5" height="1" fill="#000"/><rect x="892" y="399" width="1" height="23" fill="#000"/><rect x="890" y="402" width="5" height="15" fill="#000"/><rect x="891" y="403" width="3" height="13" fill="#fff"/><rect x="900" y="391" width="1" height="16" fill="#000"/><rect x="898" y="397" width="5" height="7" fill="#000"/><rect x="899" y="398" width="3" height="5" fill="#fff"/><rect x="908" y="391" width="1" height="43" fill="#000"/><rect x="906" y="392" width="5" height="36" fill="#000"/><rect x="916" y="424" width="1" height="13" fill="#000"/><rect x="914" y="429" width="5" height="1" fill="#000"/><rect x="924" y="406" width="1" height="34" fill="#000"/><rect x="922" y="412" width="5" height="20" fill="#000"/><rect x="923" y="413" width="3" height="18" fill="#fff"/><rect x="932" y="402" width="1" height="12" fill="#000"/><rect x="930" y="410" width="5" height="4" fill="#000"/><rect x="931" y="411" width="3" height="2" fill="#fff"/><rect x="940" y="490" width="1" height="36" fill="#000"/><rect x="938" y="500" width="5" height="3" fill="#000"/><rect x="939" y="501" width="3" height="1" fill="#fff"/><rect x="948" y="458" width="1" height="52" fill="#000"/><rect x="946" y="466" width="5" height="36" fill="#000"/><rect x="947" y="467" width="3" height="34" fill="#fff"/><rect x="956" y="452" width="1" height="26" fill="#000"/><rect x="954" y="462" width="5" height="2" fill="#000"/><rect x="964" y="464" width="1" height="17" fill="#000"/><rect x="962" y="464" width="5" height="2" fill="#000"/><rect x="972" y="452" width="1" height="35" fill="#000"/><rect x="970" y="466" width="5" height="10" fill="#000"/><rect x="980" y="474" width="1" height="14" fill="#000"/><rect x="978" y="475" width="5" height="4" fill="#000"/><rect x="988" y="479" width="1" height="33" fill="#000"/><rect x="986" y="479" width="5" height="13" fill="#000"/><rect x="996" y="465" width="1" height="29" fill="#000"/><rect x="994" y="466" width="5" height="25" fill="#000"/><rect x="995" y="467" width="3" height="23" fill="#fff"/><rect x="1004" y="432" width="1" height="28" fill="#000"/><rect x="1002" y="438" width="5" height="13" fill="#000"/><rect x="1012" y="448" width="1" height="46" fill="#000"/><rect x="1010" y="451" width="5" height="20" fill="#000"/><rect x="1020" y="474" width="1" height="24" fill="#000"/><rect x="1018" y="484" width="5" height="10" fill="#000"/><rect x="1019" y="485" width="3" height="8" fill="#fff"/><rect x="1028" y="479" width="1" height="15" fill="#000"/><rect x="1026" y="483" width="5" height="4" fill="#000"/><rect x="1027" y="484" width="3" height="2" fill="#fff"/><rect x="1036" y="466" width="1" height="39" fill="#000"/><rect x="1034" y="483" width="5" height="22" fill="#000"/><rect x="1035" y="484" width="3" height="20" fill="#fff"/><rect x="1044" y="481" width="1" height="10" fill="#000"/><rect x="1042" y="482" width="5" height="7" fill="#000"/><rect x="1052" y="438" width="1" height="44" fill="#000"/><rect x="1050" y="456" width="5" height="24" fill="#000"/><rect x="1051" y="457" width="3" height="22" fill="#fff"/><rect x="1060" y="348" width="1" height="103" fill="#000"/><rect x="1058" y="368" width="5" height="83" fill="#000"/><rect x="1059" y="369" width="3" height="81" fill="#fff"/><rect x="1068" y="346" width="1" height="32" fill="#000"/><rect x="1066" y="361" width="5" height="13" fill="#000"/><rect x="1067" y="362" width="3" height="11" fill="#fff"/><rect x="1076" y="344" width="1" height="29" fill="#000"/><rect x="1074" y="359" width="5" height="14" fill="#000"/><rect x="1084" y="333" width="1" height="23" fill="#000"/><rect x="1082" y="340" width="5" height="12" fill="#000"/><rect x="1092" y="346" width="1" height="20" fill="#000"/><rect x="1090" y="354" width="5" height="1" fill="#000"/><rect x="1100" y="329" width="1" height="26" fill="#000"/><rect x="1098" y="341" width="5" height="6" fill="#000"/><rect x="1108" y="339" width="1" height="13" fill="#000"/><rect x="1106" y="345" width="5" height="2" fill="#000"/><rect x="1116" y="317" width="1" height="35" fill="#000"/><rect x="1114" y="331" width="5" height="14" fill="#000"/><rect x="1124" y="338" width="1" height="13" fill="#000"/><rect x="1122" y="345" width="5" height="5" fill="#000"/><rect x="1132" y="288" width="1" height="56" fill="#000"/><rect x="1130" y="300" width="5" height="30" fill="#000"/><rect x="1131" y="301" width="3" height="28" fill="#fff"/><rect x="1140" y="285" width="1" height="17" fill="#000"/><rect x="1138" y="292" width="5" height="5" fill="#000"/><rect x="1139" y="293" width="3" height="3" fill="#fff"/><rect x="1148" y="264" width="1" height="47" fill="#000"/><rect x="1146" y="265" width="5" height="27" fill="#000"/><rect x="1156" y="284" width="1" height="15" fill="#000"/><rect x="1154" y="292" width="5" height="5" fill="#000"/><rect x="1164" y="277" width="1" height="17" fill="#000"/><rect x="1162" y="280" width="5" height="5" fill="#000"/><rect x="1163" y="281" width="3" height="3" fill="#fff"/><rect x="1172" y="258" width="1" height="24" fill="#000"/><rect x="1170" y="267" width="5" height="13" fill="#000"/><rect x="1171" y="268" width="3" height="11" fill="#fff"/><rect x="1180" y="279" width="1" height="31" fill="#000"/><rect x="1178" y="281" width="5" height="14" fill="#000"/><rect x="1188" y="290" width="1" height="14" fill="#000"/><rect x="1186" y="295" width="5" height="4" fill="#000"/><rect x="1196" y="299" width="1" height="25" fill="#000"/><rect x="1194" y="300" width="5" height="21" fill="#000"/><rect x="1204" y="320" width="1" height="23" fill="#000"/><rect x="1202" y="320" width="5" height="15" fill="#000"/><rect x="1212" y="315" width="1" height="18" fill="#000"/><rect x="1210" y="325" width="5" height="4" fill="#000"/><rect x="1220" y="326" width="1" height="12" fill="#000"/><rect x="1218" y="328" width="5" height="9" fill="#000"/><rect x="1228" y="324" width="1" height="51" fill="#000"/><rect x="1226" y="333" width="5" height="42" fill="#000"/><rect x="1236" y="363" width="1" height="19" fill="#000"/><rect x="1234" y="367" width="5" height="7" fill="#000"/><rect x="1235" y="368" width="3" height="5" fill="#fff"/><rect x="1244" y="352" width="1" height="17" fill="#000"/><rect x="1242" y="359" width="5" height="6" fill="#000"/><rect x="1252" y="360" width="1" height="16" fill="#000"/><rect x="1250" y="364" width="5" height="10" fill="#000"/><rect x="1260" y="361" width="1" height="39" fill="#000"/><rect x="1258" y="376" width="5" height="22" fill="#000"/><rect x="1268" y="382" width="1" height="28" fill="#000"/><rect x="1266" y="397" width="5" height="12" fill="#000"/><rect x="1276" y="373" width="1" height="25" fill="#000"/><rect x="1274" y="386" width="5" height="1" fill="#000"/><rect x="1284" y="382" width="1" height="12" fill="#000"/><rect x="1282" y="384" width="5" height="6" fill="#000"/><rect x="1292" y="395" width="1" height="39" fill="#000"/><rect x="1290" y="408" width="5" height="12" fill="#000"/><rect x="1300" y="417" width="1" height="20" fill="#000"/><rect x="1298" y="420" width="5" height="17" fill="#000"/><rect x="1308" y="411" width="1" height="19" fill="#000"/><rect x="1306" y="423" width="5" height="3" fill="#000"/><rect x="1316" y="419" width="1" height="15" fill="#000"/><rect x="1314" y="422" width="5" height="7" fill="#000"/><rect x="1315" y="423" width="3" height="5" fill="#fff"/><rect x="1324" y="421" width="1" height="28" fill="#000"/><rect x="1322" y="428" width="5" height="4" fill="#000"/><rect x="1323" y="429" width="3" height="2" fill="#fff"/><rect x="1332" y="419" width="1" height="15" fill="#000"/><rect x="1330" y="425" width="5" height="5" fill="#000"/><rect x="1331" y="426" width="3" height="3" fill="#fff"/><rect x="1340" y="415" width="1" height="38" fill="#000"/><rect x="1338" y="416" width="5" height="31" fill="#000"/><rect x="1339" y="417" width="3" height="29" fill="#fff"/><rect x="1348" y="414" width="1" height="11" fill="#000"/><rect x="1346" y="418" width="5" height="2" fill="#000"/><rect x="1356" y="423" width="1" height="32" fill="#000"/><rect x="1354" y="424" width="5" height="21" fill="#000"/><rect x="1355" y="425" width="3" height="19" fill="#fff"/><rect x="1364" y="414" width="1" height="16" fill="#000"/><rect x="1362" y="424" width="5" height="6" fill="#000"/><rect x="1318" y="404" width="77" height="10" fill="#00ff00"/><rect x="1625" y="49" width="2" height="1" fill="#000"/><rect x="1625" y="82" width="2" height="1" fill="#000"/><rect x="1625" y="115" width="2" height="1" fill="#000"/><rect x="1625" y="148" width="2" height="1" fill="#000"/><rect x="1625" y="181" width="2" height="1" fill="#000"/><rect x="1625" y="214" width="2" height="1" fill="#000"/><rect x="1625" y="247" width="2" height="1" fill="#000"/><rect x="1625" y="280" width="2" height="1" fill="#000"/><rect x="1625" y="313" width="2" height="1" fill="#000"/><rect x="1625" y="346" width="2" height="1" fill="#000"/><rect x="1625" y="379" width="2" height="1" fill="#000"/><rect x="1625" y="412" width="2" height="1" fill="#000"/><rect x="1625" y="445" width="2" height="1" fill="#000"/><rect x="1625" y="478" width="2" height="1" fill="#000"/><rect x="1625" y="511" width="2" height="1" fill="#000"/><rect x="1625" y="544" width="2" height="1" fill="#000"/><rect x="1625" y="577" width="2" height="1" fill="#000"/><rect x="60" y="928" width="1" height="3" fill="#000"/><rect x="124" y="928" width="1" height="3" fill="#000"/><rect x="188" y="928" width="1" height="3" fill="#000"/><rect x="252" y="928" width="1" height="3" fill="#000"/><rect x="316" y="928" width="1" height="3" fill="#000"/><rect x="380" y="928" width="1" height="3" fill="#000"/><rect x="444" y="928" width="1" height="3" fill="#000"/><rect x="508" y="928" width="1" height="3" fill="#000"/><rect x="572" y="928" width="1" height="3" fill="#000"/><rect x="636" y="928" width="1" height="3" fill="#000"/><rect x="700" y="928" width="1" height="3" fill="#000"/><rect x="764" y="928" width="1" height="3" fill="#000"/><rect x="828" y="928" width="1" height="3" fill="#000"/><rect x="892" y="928" width="1" height="3" fill="#000"/><rect x="956" y="928" width="1" height="3" fill="#000"/><rect x="1020" y="928" width="1" height="3" fill="#000"/><rect x="1084" y="928" width="1" height="3" fill="#000"/><rect x="1148" y="928" width="1" height="3" fill="#000"/><rect x="1212" y="928" width="1" height="3" fill="#000"/><rect x="1276" y="928" width="1" height="3" fill="#000"/><rect x="1340" y="928" width="1" height="3" fill="#000"/></g><g shape-rendering="crispEdges"><path d="M144,660.5h3M1099,649.5h2M1237,608.5h2M306,601.5h2M318,601.5h3M324,601.5h3M330,601.5h2M162,656.5h3M168,656.5h3M174,656.5h3M660,656.5h2M1316,656.5h2M210,642.5h2M606,642.5h3M1274,632.5h2M0,707.5h3M6,707.5h3M12,707.5h3M18,707.5h3M24,707.5h3M30,707.5h3M36,707.5h3M42,707.5h3M48,707.5h2M462,636.5h3M492,636.5h3M498,636.5h3M504,636.5h3M510,636.5h3M516,636.5h3M522,636.5h3M528,636.5h3M534,636.5h3M540,636.5h2M180,655.5h3M444,629.5h2M108,680.5h2M931,680.5h2M1076,664.5h2M1333,664.5h3M151,658.5h2M666,658.5h2M372,596.5h3M378,596.5h3M85,696.5h2M1063,669.5h3M1357,669.5h3M264,602.5h2M312,602.5h3M1177,602.5h3M1225,602.5h2M120,672.5h2M961,672.5h3M967,672.5h3M973,672.5h3M979,672.5h2M114,676.5h2M1015,676.5h3M1021,676.5h3M1027,676.5h3M1129,626.5h2M991,674.5h3M1045,674.5h3M456,634.5h2M90,693.5h2M205,645.5h2M624,645.5h3M355,597.5h2M360,597.5h3M366,597.5h3M385,597.5h2M1298,647.5h2M348,598.5h3M1195,598.5h3M1201,598.5h3M1207,598.5h3M235,622.5h2M1135,622.5h2M138,662.5h2M1328,662.5h2M950,673.5h2M955,673.5h3M985,673.5h3M1051,673.5h2M1069,667.5h2M1346,667.5h2M1262,624.5h2M1322,659.5h2M66,704.5h2M782,752.5h3M788,752.5h3M794,752.5h3M800,752.5h3M806,752.5h3M812,752.5h3M818,752.5h3M944,675.5h2M998,675.5h2M1003,675.5h3M1009,675.5h3M1033,675.5h3M1039,675.5h2M1117,635.5h2M1279,635.5h2M618,644.5h3M588,640.5h3M594,640.5h3M1111,640.5h2M342,599.5h3M1189,599.5h3M1213,599.5h3M132,665.5h2M678,665.5h2M1339,665.5h2M193,651.5h2M649,651.5h2M770,749.5h3M842,749.5h3M1093,653.5h2M1309,653.5h3M878,730.5h2M126,668.5h2M1351,668.5h3M1057,671.5h3M199,648.5h2M642,648.5h3M824,751.5h3M830,751.5h2M1303,650.5h2M270,600.5h3M276,600.5h3M282,600.5h3M288,600.5h3M294,600.5h3M300,600.5h3M336,600.5h3M391,600.5h2M1184,600.5h2M1220,600.5h2M612,643.5h2M1291,643.5h2M426,619.5h2M1256,619.5h2M558,638.5h3M564,638.5h3M1142,618.5h2M571,639.5h2M576,639.5h3M582,639.5h3M1285,639.5h2M600,641.5h3M764,748.5h3M848,748.5h3M631,646.5h2M636,646.5h2M186,654.5h3M655,654.5h2M672,661.5h2M450,631.5h2M421,616.5h2M1243,611.5h2M855,746.5h2M54,706.5h3M253,607.5h2M1165,607.5h2M414,612.5h2M1153,612.5h2M777,750.5h2M836,750.5h3M468,637.5h3M474,637.5h3M480,637.5h3M486,637.5h2M546,637.5h3M552,637.5h3M259,604.5h2M1172,604.5h2M79,699.5h2M1231,605.5h2M60,705.5h3M1249,614.5h2M409,609.5h2M1160,609.5h2M397,603.5h2M1147,615.5h2M1123,630.5h2M873,734.5h2M439,627.5h2M156,657.5h3M1087,657.5h2M72,702.5h2M938,677.5h2M228,628.5h2M1268,628.5h2M753,738.5h2M403,606.5h2M198.5,649v1M408.5,608v1M1287.5,640v1M428.5,620v1M1159.5,610v1M84.5,697v1M698.5,682v1M729.5,715v1M452.5,632v1M648.5,650v1M901.5,708v1M96.5,689v1M902.5,707v1M1281.5,636v1M668.5,659v1M909.5,700v1M759.5,743v1M730.5,716v1M724.5,709v1M1345.5,666v1M907.5,702v1M981.5,673v1M720.5,705v1M862.5,743v1M432.5,622v1M396.5,602v1M674.5,662v1M438.5,626v1M1227.5,603v1M949.5,674v1M1219.5,599v1M104.5,683v1M927.5,683v1M742.5,729v1M736.5,722v1M715.5,699v1M614.5,644v1M731.5,717v1M542.5,637v1M776.5,749v1M1251.5,615v1M402.5,605v1M1297.5,646v1M1071.5,666v1M638.5,647v1M248.5,611v1M920.5,689v1M102.5,685v1M230.5,627v1M925.5,685v1M192.5,652v1M266.5,601v1M926.5,684v1M737.5,723v1M433.5,623v1M1321.5,658v1M685.5,670v1M434.5,624v1M718.5,703v1M1183.5,601v1M630.5,645v1M886.5,723v1M891.5,719v1M1106.5,644v1M218.5,636v1M1101.5,648v1M1341.5,666v1M1239.5,609v1M224.5,631v1M892.5,718v1M223.5,632v1M390.5,599v1M1053.5,672v1M1293.5,644v1M713.5,697v1M74.5,701v1M908.5,701v1M222.5,633v1M885.5,724v1M868.5,738v1M68.5,703v1M709.5,692v2M703.5,686v1M735.5,721v1M752.5,737v1M1267.5,627v1M861.5,744v1M150.5,659v1M867.5,739v1M488.5,636v1M446.5,630v1M725.5,710v2M103.5,684v1M866.5,740v1M116.5,675v1M252.5,608v1M746.5,732v1M78.5,700v1M416.5,613v1M1167.5,606v1M242.5,616v1M1233.5,606v1M1131.5,625v1M128.5,667v1M1107.5,643v1M240.5,618v1M241.5,617v1M97.5,688v1M919.5,690v1M1105.5,645v1M690.5,674v1M933.5,679v1M702.5,685v1M212.5,641v1M1083.5,660v1M420.5,615v1M234.5,623v1M204.5,646v1M1075.5,665v1M140.5,661v1M1095.5,652v1M1141.5,619v1M884.5,725v1M458.5,635v1M216.5,638v1M1273.5,631v1M890.5,720v1M217.5,637v1M308.5,602v1M680.5,666v1M714.5,698v1M1082.5,661v1M691.5,675v1M708.5,691v1M1113.5,639v1M1261.5,623v1M872.5,735v1M704.5,687v1M943.5,676v1M1155.5,611v1M692.5,676v1M1363.5,670v1M1041.5,674v1M860.5,745v1M854.5,747v1M247.5,612v1M903.5,706v1M98.5,687v1M1255.5,618v1M747.5,733v1M740.5,727v1M686.5,671v1M110.5,679v1M758.5,742v1M1327.5,661v1M246.5,613v1M332.5,600v1M92.5,692v1M122.5,671v1M258.5,605v1M1171.5,605v1M719.5,704v1M898.5,712v1M134.5,664v1M1125.5,629v1M748.5,734v1M741.5,728v1M1305.5,651v1M1119.5,634v1M1149.5,614v1M662.5,657v1M654.5,653v1M1137.5,621v1M897.5,713v1M896.5,714v1M915.5,694v1M1081.5,662v1M1315.5,655v1M760.5,744v1M1245.5,612v1M50.5,706v1M696.5,680v1M570.5,638v1M913.5,696v1M684.5,669v1M914.5,695v1M921.5,688v1M832.5,750v1M937.5,678v1M354.5,598v1M697.5,681v1M997.5,674v1M880.5,729v1M384.5,596v1M1089.5,656v1" fill="none" stroke="#ff0000" stroke-width="1"/><path d="M6,890.5h2M15,890.5h2M32,890.5h5M752,890.5h14M634,861.5h6M948,861.5h18M1017,861.5h2M1024,861.5h8M1340,861.5h4M3,889.5h3M17,889.5h2M24,889.5h8M748,889.5h4M630,862.5h4M640,862.5h5M966,862.5h2M1019,862.5h5M1032,862.5h8M1338,862.5h2M1344,862.5h6M188,820.5h2M284,820.5h2M351,820.5h2M355,822.5h5M1084,822.5h2M1098,822.5h20M1180,822.5h2M405,858.5h2M1278,858.5h4M173,841.5h2M431,841.5h2M440,841.5h3M448,841.5h8M462,841.5h4M470,841.5h2M489,841.5h2M493,841.5h2M1204,841.5h4M1214,841.5h2M137,854.5h2M412,854.5h9M607,854.5h2M918,854.5h2M1006,854.5h2M1235,854.5h5M1246,854.5h2M175,840.5h2M429,840.5h2M443,840.5h5M456,840.5h6M472,840.5h3M487,840.5h2M495,840.5h2M1202,840.5h2M1208,840.5h6M241,817.5h2M328,817.5h3M336,817.5h8M206,811.5h4M213,811.5h2M317,811.5h2M1136,811.5h14M1160,811.5h3M666,879.5h2M624,865.5h2M976,865.5h6M1260,865.5h2M1333,865.5h2M1358,865.5h4M48,873.5h6M940,873.5h2M80,834.5h5M179,838.5h2M480,838.5h5M499,838.5h2M114,853.5h2M135,853.5h2M548,853.5h4M605,853.5h2M1240,853.5h6M160,849.5h3M386,849.5h3M512,849.5h3M563,849.5h2M926,849.5h4M1075,827.5h2M264,832.5h13M524,832.5h2M366,823.5h2M1064,823.5h5M1082,823.5h2M1086,823.5h4M1094,823.5h4M1118,823.5h4M1182,823.5h4M158,848.5h2M510,848.5h2M860,848.5h2M930,848.5h3M686,895.5h4M781,895.5h2M812,895.5h2M133,852.5h2M552,852.5h6M987,868.5h2M1267,868.5h2M1308,868.5h2M1322,868.5h4M1168,808.5h3M785,897.5h2M816,897.5h3M626,864.5h2M971,864.5h5M1354,864.5h4M64,870.5h5M844,870.5h4M1304,870.5h2M139,855.5h10M410,855.5h2M609,855.5h2M1000,855.5h2M1233,855.5h2M1248,855.5h3M652,874.5h9M586,844.5h11M898,844.5h3M580,846.5h2M866,846.5h6M888,846.5h6M433,842.5h2M438,842.5h2M466,842.5h4M491,842.5h2M1216,842.5h3M58,871.5h6M1296,871.5h2M252,831.5h12M526,831.5h4M435,843.5h3M1219,843.5h2M306,824.5h3M1060,824.5h4M1069,824.5h2M1080,824.5h2M1090,824.5h4M1122,824.5h3M1186,824.5h3M848,869.5h5M1293,869.5h2M1306,869.5h2M582,845.5h4M872,845.5h16M894,845.5h4M690,896.5h3M783,896.5h2M814,896.5h2M76,835.5h4M380,851.5h2M558,851.5h2M922,851.5h2M110,850.5h2M163,850.5h2M382,850.5h4M515,850.5h2M544,850.5h2M560,850.5h3M924,850.5h2M8,891.5h3M13,891.5h2M766,891.5h4M194,818.5h3M243,818.5h2M290,818.5h3M331,818.5h5M344,818.5h5M96,826.5h5M300,826.5h2M370,826.5h2M1073,826.5h2M1077,826.5h2M628,863.5h2M968,863.5h3M1040,863.5h5M1336,863.5h2M1350,863.5h4M218,814.5h2M232,814.5h5M322,814.5h2M982,866.5h2M1262,866.5h2M1314,866.5h4M1330,866.5h3M1362,866.5h3M704,904.5h8M718,904.5h2M730,904.5h3M220,815.5h12M237,815.5h2M324,815.5h2M204,812.5h2M1132,812.5h4M1150,812.5h4M1158,812.5h2M210,810.5h3M1163,810.5h3M1,888.5h2M19,888.5h5M670,881.5h4M621,867.5h2M984,867.5h3M1264,867.5h3M1310,867.5h4M1318,867.5h4M1326,867.5h4M530,830.5h3M190,819.5h4M286,819.5h4M349,819.5h2M1166,809.5h2M122,859.5h2M396,859.5h9M1013,859.5h2M1282,859.5h3M1198,837.5h2M790,899.5h2M684,894.5h2M778,894.5h3M156,847.5h2M508,847.5h2M862,847.5h4M202,813.5h2M216,813.5h2M320,813.5h2M1154,813.5h4M44,872.5h4M54,872.5h4M1298,872.5h2M1301,872.5h2M118,856.5h2M408,856.5h2M611,856.5h2M908,856.5h9M1231,856.5h2M1251,856.5h2M712,905.5h6M1015,860.5h2M353,821.5h2M360,821.5h5M700,903.5h4M720,903.5h3M726,903.5h4M802,903.5h3M198,816.5h2M239,816.5h2M326,816.5h2M696,900.5h2M792,900.5h3M787,898.5h3M819,898.5h10M1010,857.5h2M1229,857.5h2M1276,857.5h2M92,825.5h4M302,825.5h4M1071,825.5h2M177,839.5h2M475,839.5h5M485,839.5h2M497,839.5h2M723,902.5h3M798,902.5h4M774,893.5h4M674,882.5h3M11,892.5h2M744,892.5h2M770,892.5h4M1171,807.5h2M795,901.5h3M662,876.5h2M668,880.5h2M993.5,862v1M186.5,824v2M378.5,844v3M1275.5,858v2M840.5,875v2M116.5,854v1M1177.5,816v2M806.5,901v1M852.5,868v1M837.5,879v2M1270.5,865v1M1195.5,833v2M1050.5,851v2M101.5,828v3M374.5,832v3M906.5,853v1M165.5,849v1M154.5,849v1M519.5,843v2M185.5,826v2M647.5,866v2M375.5,835v3M105.5,839v3M836.5,881v2M860.5,849v1M74.5,842v4M1225.5,852v2M651.5,872v2M506.5,845v1M1300.5,873v1M1127.5,819v2M947.5,862v2M936.5,860v3M507.5,846v1M737.5,899v1M69.5,864v4M314.5,813v2M832.5,889v2M939.5,870v3M73.5,846v5M1004.5,852v1M42.5,876v2M427.5,840v2M1131.5,813v2M568.5,842v2M389.5,850v1M943.5,869v1M1005.5,853v1M601.5,849v1M997.5,858v1M1228.5,858v1M172.5,842v1M905.5,851v2M602.5,850v1M310.5,820v2M646.5,865v1M665.5,878v1M280.5,826v1M1224.5,850v2M572.5,836v1M992.5,863v2M104.5,836v3M112.5,851v1M1221.5,844v2M407.5,857v1M85.5,833v1M377.5,841v3M1269.5,866v2M920.5,853v1M149.5,854v1M1049.5,853v2M518.5,845v2M184.5,828v3M1176.5,814v2M298.5,824v1M100.5,827v1M1179.5,820v2M37.5,887v2M521.5,838v2M1054.5,841v3M1194.5,832v1M1173.5,808v2M859.5,850v2M1045.5,861v2M180.5,837v1M283.5,821v2M200.5,815v1M932.5,849v1M650.5,871v1M831.5,891v2M808.5,899v1M426.5,842v2M68.5,868v2M540.5,845v2M1201.5,839v1M1292.5,868v1M1130.5,815v1M541.5,847v1M856.5,858v2M942.5,870v2M72.5,851v4M1175.5,812v2M935.5,857v3M422.5,850v2M391.5,853v1M661.5,875v1M571.5,837v2M664.5,877v1M946.5,864v2M392.5,854v1M938.5,866v4M855.5,860v3M623.5,866v1M373.5,829v3M574.5,838v2M1285.5,860v1M421.5,852v2M41.5,878v2M649.5,869v2M297.5,823v1M88.5,829v2M839.5,877v1M1291.5,867v1M76.5,836v2M1053.5,844v3M520.5,840v3M999.5,856v1M854.5,863v3M1272.5,862v2M698.5,901v1M365.5,822v1M565.5,847v2M125.5,859v1M40.5,880v3M679.5,886v2M597.5,845v1M835.5,883v2M1254.5,858v1M934.5,853v4M277.5,830v2M1197.5,836v1M151.5,852v1M517.5,847v2M183.5,831v2M603.5,851v1M1126.5,821v1M1129.5,816v2M694.5,898v1M71.5,855v5M36.5,889v1M573.5,837v1M739.5,897v1M604.5,852v1M615.5,860v2M1079.5,825v1M1223.5,848v2M293.5,819v1M1057.5,832v3M103.5,833v3M167.5,847v1M858.5,852v3M1003.5,853v1M539.5,843v2M128.5,855v2M117.5,855v1M536.5,837v2M1178.5,818v2M945.5,866v1M830.5,893v2M1253.5,857v1M1174.5,810v2M1056.5,835v3M425.5,844v2M376.5,838v3M394.5,856v2M857.5,855v3M75.5,838v4M315.5,811v2M991.5,865v1M87.5,831v1M933.5,850v3M693.5,897v1M1048.5,855v2M807.5,900v1M1271.5,864v1M70.5,860v4M113.5,852v1M1222.5,846v2M311.5,818v2M834.5,885v2M523.5,834v2M678.5,885v1M44.5,873v1M734.5,902v1M319.5,812v1M1060.5,825v1M182.5,833v2M546.5,851v1M682.5,891v1M810.5,897v1M1189.5,825v2M90.5,827v1M1052.5,847v2M132.5,851v1M853.5,866v2M994.5,861v1M1055.5,838v3M501.5,839v1M127.5,857v1M1059.5,826v3M39.5,883v2M379.5,847v3M1287.5,862v1M989.5,867v1M538.5,841v2M372.5,827v2M829.5,895v2M299.5,825v1M424.5,846v2M677.5,883v2M542.5,848v1M102.5,831v2M1058.5,829v3M741.5,895v1M535.5,835v2M1047.5,857v2M108.5,847v2M1256.5,860v2M599.5,847v1M169.5,845v1M215.5,812v1M109.5,849v1M393.5,855v1M613.5,857v2M903.5,848v2M841.5,874v1M1274.5,860v1M833.5,887v2M614.5,859v1M575.5,840v1M428.5,839v1M1286.5,861v1M197.5,817v1M576.5,841v1M805.5,902v1M504.5,842v2M699.5,902v1M537.5,839v2M246.5,821v2M681.5,889v2M598.5,846v1M279.5,827v2M153.5,850v1M917.5,855v1M1255.5,859v1M1192.5,829v2M921.5,852v1M0.5,887v1M617.5,863v2M130.5,853v1M423.5,848v2M43.5,874v2M736.5,900v1M181.5,835v2M1046.5,859v2M1012.5,858v1M534.5,833v2M680.5,888v1M107.5,844v3M86.5,832v1M809.5,898v1M89.5,828v1M150.5,853v1M395.5,858v1M313.5,815v2M38.5,885v2M1191.5,828v1M695.5,899v1M522.5,836v2M188.5,821v1M502.5,840v1M616.5,862v1M1288.5,863v2M902.5,847v1M294.5,820v1M503.5,841v1M567.5,844v1M578.5,843v2M570.5,839v2M828.5,897v1M1289.5,865v1M620.5,868v1M996.5,859v1M245.5,819v2M309.5,822v2M579.5,845v1M733.5,903v1M248.5,824v2M683.5,892v2M249.5,826v1M282.5,823v1M533.5,831v2M547.5,852v1M168.5,846v1M901.5,845v2M126.5,858v1M1258.5,863v1M619.5,866v2M1303.5,871v1M743.5,893v1M577.5,842v1M740.5,896v1M171.5,843v1M1125.5,822v2M843.5,871v2M1190.5,827v1M187.5,822v2M1273.5,861v1M1257.5,862v1M838.5,878v1M566.5,845v2M106.5,842v2M941.5,872v1M1227.5,856v2M904.5,850v1M380.5,850v1M937.5,863v3M747.5,890v1M278.5,829v1M281.5,824v2M152.5,851v1M251.5,829v2M543.5,849v1M516.5,849v1M600.5,848v1M129.5,854v1M738.5,898v1M312.5,817v1M1295.5,870v1M907.5,854v2M1193.5,831v1M166.5,848v1M155.5,848v1M645.5,863v2M811.5,896v1M944.5,867v2M618.5,865v1M124.5,860v1M1226.5,854v2M316.5,810v1M369.5,825v1M505.5,844v1M1051.5,849v2M995.5,860v1M247.5,823v1M1200.5,838v1M250.5,827v2M390.5,851v2M120.5,857v1M998.5,857v1M569.5,841v1M735.5,901v1M121.5,858v1M1002.5,854v1M91.5,826v1M295.5,821v1M201.5,814v1M648.5,868v1M296.5,822v1M1290.5,866v1M170.5,844v1M1335.5,864v1M990.5,866v1M1128.5,818v1M940.5,874v1M368.5,824v1M524.5,833v1M1008.5,855v1M1259.5,864v1M742.5,894v1M1196.5,835v1M1009.5,856v1M746.5,891v1M131.5,852v1M842.5,873v1" fill="none" stroke="#1e90ff" stroke-width="1"/></g><g><g transform="translate(1439.9,516.2) scale(1.03,1)"><text x="0" y="0" font-size="32" fill="#0a2a0a" style="font-family:'Liberation Sans','Noto Sans CJK SC',sans-serif">多空转折点</text></g><g transform="translate(1438.6,515) scale(1.03,1)"><text x="0" y="0" font-size="32" fill="#00ff00" style="font-family:'Liberation Sans','Noto Sans CJK SC',sans-serif">多空转折点</text></g></g></svg>

<svg width="230" height="120" viewBox="0 0 230 120" style="position:absolute;left:0;top:0">
<defs>
<linearGradient id="pt" x1="0" y1="0" x2="0" y2="1"><stop offset="0" stop-color="#fb5353"/><stop offset="1" stop-color="#e13232"/></linearGradient>
<linearGradient id="pb" x1="0" y1="0" x2="0" y2="1"><stop offset="0" stop-color="#e03232"/><stop offset=".5" stop-color="#c81818"/><stop offset="1" stop-color="#ae0000"/></linearGradient>
<linearGradient id="sb" x1="0" y1="0" x2="0" y2="1"><stop offset="0" stop-color="#f2f2f2"/><stop offset="1" stop-color="#dedede"/></linearGradient>
</defs>
<g shape-rendering="crispEdges">
<rect x="0" y="47" width="51" height="24" fill="url(#pt)"/>
<rect x="166" y="47" width="52" height="24" fill="url(#pt)"/>
<rect x="0" y="71" width="108" height="40" fill="url(#pb)"/>
<rect x="110" y="71" width="108" height="40" fill="url(#pb)"/>
<rect x="0" y="47" width="51" height="1" fill="#c00000"/><rect x="50" y="47" width="1" height="25" fill="#c00000"/>
<rect x="166" y="47" width="52" height="1" fill="#c00000"/><rect x="166" y="47" width="1" height="25" fill="#c00000"/><rect x="217" y="47" width="1" height="64" fill="#b80000"/>
<rect x="50" y="71" width="58" height="1" fill="#c00000"/><rect x="107" y="71" width="1" height="40" fill="#b00000"/>
<rect x="110" y="71" width="57" height="1" fill="#c00000"/><rect x="110" y="71" width="1" height="40" fill="#b00000"/>
<rect x="3" y="70" width="44" height="1" fill="#8c0000"/><rect x="3" y="71" width="44" height="1" fill="#ff7676"/>
<rect x="170" y="70" width="44" height="1" fill="#8c0000"/><rect x="170" y="71" width="44" height="1" fill="#ff7676"/>
<rect x="53" y="47" width="111" height="22" fill="#a9acb4"/>
<rect x="54" y="48" width="109" height="20" fill="#ffffff"/>
<rect x="54" y="48" width="20" height="20" fill="url(#sb)"/><rect x="74" y="48" width="1" height="20" fill="#a9acb4"/>
<rect x="143" y="48" width="20" height="20" fill="url(#sb)"/><rect x="142" y="48" width="1" height="20" fill="#a9acb4"/>
</g>
<path d="M60.6,56.6 h5.4 l-2.7,3.2 z" fill="#000"/><path d="M150,59.5 h5.2 l-2.6,-3.1 z" fill="#000"/>
<path d="M-0.4,38 L3,33.6 L6.4,38 z" fill="#000"/>
<rect x="62" y="79.2" width="14.2" height="22.6" rx="7.1" ry="10" fill="none" stroke="#fff" stroke-width="2.1"/>
<rect x="54.6" y="98.4" width="4.2" height="4.2" rx=".8" fill="#fff"/>
<rect x="173.2" y="79.2" width="14.2" height="22.6" rx="7.1" ry="10" fill="none" stroke="#fff" stroke-width="2.1"/>
<rect x="165.4" y="98.4" width="4.2" height="4.2" rx=".8" fill="#fff"/>
</svg>
<div class="t" style="left:116.2px;top:52.2px;font-size:12px;color:#000">1.00</div>
<div class="t" style="left:11px;top:51.6px;font-size:12.2px;color:#fff;letter-spacing:-0.75px">SELL</div>
<div class="t" style="left:178.4px;top:51.6px;font-size:12.2px;color:#fff;letter-spacing:0.2px">BUY</div>
<div class="t" style="left:14.4px;top:90.7px;font-size:12.9px;color:#fff;font-weight:bold">25954</div>
<div class="t" style="left:124.2px;top:90.7px;font-size:12.9px;color:#fff;font-weight:bold">25967</div>

<div class="t s" style="left:1630px;top:46.1px;font-size:9.5px;color:#000;">29116.0</div><div class="t s" style="left:1630px;top:79.1px;font-size:9.5px;color:#000;">28844.0</div><div class="t s" style="left:1630px;top:112.1px;font-size:9.5px;color:#000;">28564.0</div><div class="t s" style="left:1630px;top:145.1px;font-size:9.5px;color:#000;">28292.0</div><div class="t s" style="left:1630px;top:178.1px;font-size:9.5px;color:#000;">28020.0</div><div class="t s" style="left:1630px;top:211.1px;font-size:9.5px;color:#000;">27740.0</div><div class="t s" style="left:1630px;top:244.1px;font-size:9.5px;color:#000;">27468.0</div><div class="t s" style="left:1630px;top:277.1px;font-size:9.5px;color:#000;">27196.0</div><div class="t s" style="left:1630px;top:310.1px;font-size:9.5px;color:#000;">26916.0</div><div class="t s" style="left:1630px;top:343.1px;font-size:9.5px;color:#000;">26644.0</div><div class="t s" style="left:1630px;top:376.1px;font-size:9.5px;color:#000;">26372.0</div><div class="t s" style="left:1630px;top:409.1px;font-size:9.5px;color:#000;">26092.0</div><div class="t s" style="left:1630px;top:442.1px;font-size:9.5px;color:#000;">25820.0</div><div class="t s" style="left:1630px;top:475.1px;font-size:9.5px;color:#000;">25548.0</div><div class="t s" style="left:1630px;top:508.1px;font-size:9.5px;color:#000;">25268.0</div><div class="t s" style="left:1630px;top:541.1px;font-size:9.5px;color:#000;">24996.0</div><div class="t s" style="left:1630px;top:574.1px;font-size:9.5px;color:#000;">24724.0</div><div class="t s" style="left:1627px;top:586.7px;font-size:9.5px;color:#000;">395.25</div><div class="t s" style="left:1627px;top:644.1px;font-size:9.5px;color:#000;">0.00</div><div class="t s" style="left:1627px;top:755.4px;font-size:9.5px;color:#000;">-723.16</div><div class="t s" style="left:1627px;top:771.3px;font-size:9.5px;color:#000;">100</div><div class="t s" style="left:1627px;top:797.2px;font-size:9.5px;color:#000;">80</div><div class="t s" style="left:1627px;top:843.9px;font-size:9.5px;color:#000;">50</div><div class="t s" style="left:1627px;top:900.2px;font-size:9.5px;color:#000;">15</div><div class="t s" style="left:1627px;top:917.7px;font-size:9.5px;color:#000;">0</div><div style="position:absolute;left:1626px;top:366px;width:41px;height:11px;background:#ff0000"></div><div class="t s" style="left:1630px;top:367.8px;font-size:9.5px;color:#fff;">26428.8</div><div style="position:absolute;left:1626px;top:382px;width:41px;height:11px;background:#ff0000"></div><div class="t s" style="left:1630px;top:383.8px;font-size:9.5px;color:#fff;">26295.8</div><div style="position:absolute;left:1626px;top:402px;width:41px;height:11px;background:#32cd32"></div><div class="t s" style="left:1630px;top:403.8px;font-size:9.5px;color:#fff;">26129.6</div><div style="position:absolute;left:1626px;top:424px;width:41px;height:11px;background:#000"></div><div class="t s" style="left:1630px;top:425.8px;font-size:9.5px;color:#fff;">25955.5</div><div style="position:absolute;left:1626px;top:445px;width:41px;height:11px;background:#0000ff"></div><div class="t s" style="left:1630px;top:446.8px;font-size:9.5px;color:#fff;">25772.2</div><div style="position:absolute;left:1626px;top:465px;width:41px;height:11px;background:#0000ff"></div><div class="t s" style="left:1630px;top:466.8px;font-size:9.5px;color:#fff;">25606.0</div><div class="t s" style="left:0px;top:932.5px;font-size:9.5px;color:#000;letter-spacing:-0.06px;">1 May 2019</div><div class="t s" style="left:59px;top:932.5px;font-size:9.5px;color:#000;letter-spacing:-0.08px;">6 Jun 01:15</div><div class="t s" style="left:123px;top:932.5px;font-size:9.5px;color:#000;letter-spacing:-0.08px;">13 Jun 01:15</div><div class="t s" style="left:187px;top:932.5px;font-size:9.5px;color:#000;letter-spacing:-0.08px;">19 Jun 01:15</div><div class="t s" style="left:251px;top:932.5px;font-size:9.5px;color:#000;letter-spacing:-0.08px;">25 Jun 01:15</div><div class="t s" style="left:315px;top:932.5px;font-size:9.5px;color:#000;letter-spacing:-0.08px;">2 Jul 01:15</div><div class="t s" style="left:379px;top:932.5px;font-size:9.5px;color:#000;letter-spacing:-0.08px;">8 Jul 01:15</div><div class="t s" style="left:443px;top:932.5px;font-size:9.5px;color:#000;letter-spacing:-0.08px;">12 Jul 01:15</div><div class="t s" style="left:507px;top:932.5px;font-size:9.5px;color:#000;letter-spacing:-0.08px;">18 Jul 01:15</div><div class="t s" style="left:571px;top:932.5px;font-size:9.5px;color:#000;letter-spacing:-0.08px;">24 Jul 01:15</div><div class="t s" style="left:635px;top:932.5px;font-size:9.5px;color:#000;letter-spacing:-0.08px;">30 Jul 01:15</div><div class="t s" style="left:699px;top:932.5px;font-size:9.5px;color:#000;letter-spacing:-0.08px;">5 Aug 01:15</div><div class="t s" style="left:763px;top:932.5px;font-size:9.5px;color:#000;letter-spacing:-0.08px;">9 Aug 01:15</div><div class="t s" style="left:827px;top:932.5px;font-size:9.5px;color:#000;letter-spacing:-0.08px;">15 Aug 01:15</div><div class="t s" style="left:891px;top:932.5px;font-size:9.5px;color:#000;letter-spacing:-0.08px;">21 Aug 01:15</div><div class="t s" style="left:955px;top:932.5px;font-size:9.5px;color:#000;letter-spacing:-0.08px;">27 Aug 01:15</div><div class="t s" style="left:1019px;top:932.5px;font-size:9.5px;color:#000;letter-spacing:-0.08px;">2 Sep 01:15</div><div class="t s" style="left:1083px;top:932.5px;font-size:9.5px;color:#000;letter-spacing:-0.08px;">6 Sep 01:15</div><div class="t s" style="left:1147px;top:932.5px;font-size:9.5px;color:#000;letter-spacing:-0.08px;">12 Sep 01:15</div><div class="t s" style="left:1211px;top:932.5px;font-size:9.5px;color:#000;letter-spacing:-0.08px;">18 Sep 01:15</div><div class="t s" style="left:1275px;top:932.5px;font-size:9.5px;color:#000;letter-spacing:-0.08px;">24 Sep 01:15</div><div class="t s" style="left:1339px;top:932.5px;font-size:9.5px;color:#000;letter-spacing:-0.08px;">30 Sep 01:15</div><div class="t s" style="left:10.9px;top:31.6px;font-size:9.5px;color:#000;letter-spacing:-0.1px;">HK50-,H4&nbsp; 25994.5 26081.5 25953.5 25955.5</div><div class="t s" style="left:0px;top:588.4px;font-size:9.5px;color:#000;letter-spacing:-0.05px;">MACD(12,26,9) -147.75 -141.56</div><div class="t s" style="left:0.5px;top:773.4px;font-size:9.5px;color:#000;">RSI(14) 38.1576</div><div style="position:absolute;left:1487px;top:392px;width:98px;height:31px;border:1px solid #ff0000;background:#fff"></div><div class="t" style="left:1487.9px;top:392.9px;font-size:27.3px;color:#ff0000;">26129.6</div>
</body></html>
